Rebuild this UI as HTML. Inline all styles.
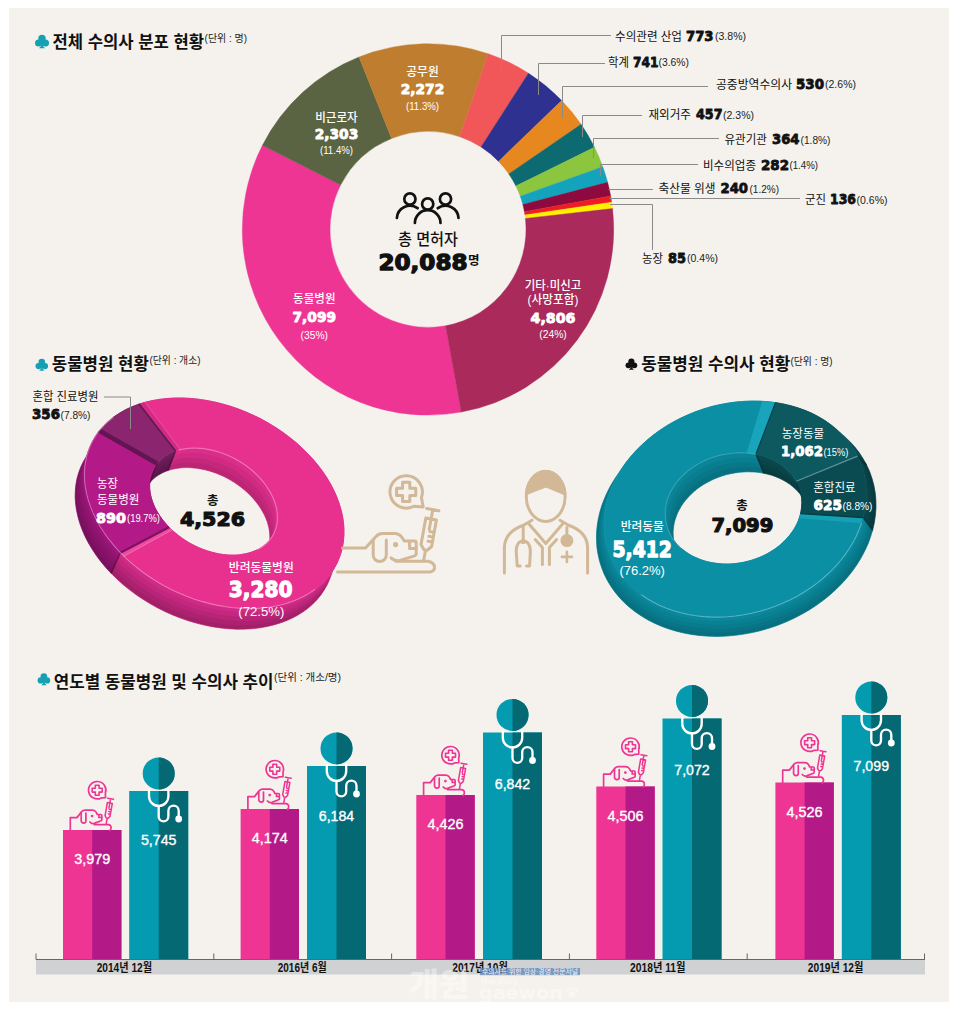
<!DOCTYPE html>
<html lang="ko"><head><meta charset="utf-8"><title>수의사 분포 현황</title>
<style>
html,body{margin:0;padding:0;background:#fff;}
body{width:960px;height:1018px;overflow:hidden;}
svg{display:block;}
.k{font-family:"Liberation Sans","Noto Sans CJK KR",sans-serif;}
.n{font-family:"DejaVu Sans","Liberation Sans",sans-serif;font-weight:700;}
.l{font-family:"Liberation Sans","Noto Sans CJK KR",sans-serif;font-weight:400;}
</style></head><body>
<svg width="960" height="1018" viewBox="0 0 960 1018">
<rect x="0" y="0" width="960" height="1018" fill="#fff"/>
<rect x="9" y="8" width="940" height="994" fill="#f5f2ed"/>
<g transform="translate(35 34.6) scale(1)" fill="#16a0b4"><circle cx="7" cy="3.9" r="3.7"/><circle cx="3.5" cy="8.3" r="3.5"/><circle cx="10.5" cy="8.3" r="3.5"/><path d="M6.2 7 L7.8 7 L8 11.5 L10 13.6 L4 13.6 L6 11.5 Z"/></g>
<text class="k" x="52.5" y="48" font-size="17" fill="#111" font-weight="700" textLength="151.5" lengthAdjust="spacingAndGlyphs">전체 수의사 분포 현황</text>
<text class="k" x="204.6" y="42" font-size="10.5" fill="#222" textLength="42.5" lengthAdjust="spacingAndGlyphs">(단위 : 명)</text>
<g transform="translate(35.5 358.6) scale(0.9)" fill="#16a0b4"><circle cx="7" cy="3.9" r="3.7"/><circle cx="3.5" cy="8.3" r="3.5"/><circle cx="10.5" cy="8.3" r="3.5"/><path d="M6.2 7 L7.8 7 L8 11.5 L10 13.6 L4 13.6 L6 11.5 Z"/></g>
<text class="k" x="51.8" y="369.8" font-size="17" fill="#111" font-weight="700" textLength="97" lengthAdjust="spacingAndGlyphs">동물병원 현황</text>
<text class="k" x="149.5" y="364.3" font-size="10.5" fill="#222" textLength="51" lengthAdjust="spacingAndGlyphs">(단위 : 개소)</text>
<g transform="translate(625.5 358.4) scale(0.84)" fill="#111"><circle cx="7" cy="3.9" r="3.7"/><circle cx="3.5" cy="8.3" r="3.5"/><circle cx="10.5" cy="8.3" r="3.5"/><path d="M6.2 7 L7.8 7 L8 11.5 L10 13.6 L4 13.6 L6 11.5 Z"/></g>
<text class="k" x="641.2" y="370.2" font-size="17" fill="#111" font-weight="700" textLength="149" lengthAdjust="spacingAndGlyphs">동물병원 수의사 현황</text>
<text class="k" x="790.5" y="365" font-size="10.5" fill="#222" textLength="42" lengthAdjust="spacingAndGlyphs">(단위 : 명)</text>
<g transform="translate(37.6 673) scale(0.9)" fill="#16a0b4"><circle cx="7" cy="3.9" r="3.7"/><circle cx="3.5" cy="8.3" r="3.5"/><circle cx="10.5" cy="8.3" r="3.5"/><path d="M6.2 7 L7.8 7 L8 11.5 L10 13.6 L4 13.6 L6 11.5 Z"/></g>
<text class="k" x="53.7" y="688.3" font-size="17" fill="#111" font-weight="700" textLength="219.8" lengthAdjust="spacingAndGlyphs">연도별 동물병원 및 수의사 추이</text>
<text class="k" x="274" y="681" font-size="10.5" fill="#222" textLength="67" lengthAdjust="spacingAndGlyphs">(단위 : 개소/명)</text>
<path d="M461.2 412.11 A185.7 185.7 0 0 1 262.43 145.32 L340.62 185.03 A98 98 0 0 0 445.52 325.82 Z" fill="#ee3593" stroke="#ee3593" stroke-width="0.4"/>
<path d="M262.43 145.32 A185.7 185.7 0 0 1 359.02 56.99 L391.6 138.41 A98 98 0 0 0 340.62 185.03 Z" fill="#5b6442" stroke="#5b6442" stroke-width="0.4"/>
<path d="M359.02 56.99 A185.7 185.7 0 0 1 488.19 53.72 L459.76 136.69 A98 98 0 0 0 391.6 138.41 Z" fill="#bf7d30" stroke="#bf7d30" stroke-width="0.4"/>
<path d="M488.19 53.72 A185.7 185.7 0 0 1 528.5 73.24 L481.04 146.99 A98 98 0 0 0 459.76 136.69 Z" fill="#f15659" stroke="#f15659" stroke-width="0.4"/>
<path d="M528.5 73.24 A185.7 185.7 0 0 1 561.68 100.5 L498.55 161.38 A98 98 0 0 0 481.04 146.99 Z" fill="#2e3190" stroke="#2e3190" stroke-width="0.4"/>
<path d="M561.68 100.5 A185.7 185.7 0 0 1 581.12 124.33 L508.81 173.95 A98 98 0 0 0 498.55 161.38 Z" fill="#e6871f" stroke="#e6871f" stroke-width="0.4"/>
<path d="M581.12 124.33 A185.7 185.7 0 0 1 594.52 147.22 L515.88 186.03 A98 98 0 0 0 508.81 173.95 Z" fill="#0c6a70" stroke="#0c6a70" stroke-width="0.4"/>
<path d="M594.52 147.22 A185.7 185.7 0 0 1 602.78 166.67 L520.24 196.29 A98 98 0 0 0 515.88 186.03 Z" fill="#8cc63e" stroke="#8cc63e" stroke-width="0.4"/>
<path d="M602.78 166.67 A185.7 185.7 0 0 1 607.63 182.31 L522.8 204.55 A98 98 0 0 0 520.24 196.29 Z" fill="#13a3bd" stroke="#13a3bd" stroke-width="0.4"/>
<path d="M607.63 182.31 A185.7 185.7 0 0 1 610.66 195.91 L524.39 211.73 A98 98 0 0 0 522.8 204.55 Z" fill="#8c0a3d" stroke="#8c0a3d" stroke-width="0.4"/>
<path d="M610.66 195.91 A185.7 185.7 0 0 1 611.69 202.15 L524.94 215.02 A98 98 0 0 0 524.39 211.73 Z" fill="#ee1d23" stroke="#ee1d23" stroke-width="0.4"/>
<path d="M611.69 202.15 A185.7 185.7 0 0 1 612.53 208.57 L525.38 218.41 A98 98 0 0 0 524.94 215.02 Z" fill="#fff100" stroke="#fff100" stroke-width="0.4"/>
<path d="M612.53 208.57 A185.7 185.7 0 0 1 461.24 412.1 L445.54 325.82 A98 98 0 0 0 525.38 218.41 Z" fill="#a92a5b" stroke="#a92a5b" stroke-width="0.4"/>
<g transform="translate(368 170)" fill="none" stroke="#111" stroke-width="2.7" stroke-linecap="round">
<circle cx="41.9" cy="29" r="5.6"/><circle cx="59.7" cy="34" r="5.6"/><circle cx="77.5" cy="29" r="5.6"/>
<path d="M28.9 48 A13 13 0 0 1 49.6 38.2"/>
<path d="M46.9 53 A12.8 12.8 0 0 1 72.5 53"/>
<path d="M90.5 48 A13 13 0 0 0 69.8 38.2"/>
</g>
<text class="k" x="428" y="245.2" font-size="16" fill="#111" text-anchor="middle" font-weight="500" textLength="60" lengthAdjust="spacingAndGlyphs">총 면허자</text>
<text class="n" x="378.5" y="269.6" font-size="21.26" fill="#111" textLength="89" lengthAdjust="spacingAndGlyphs" stroke="#111" stroke-width="1.28" stroke-linejoin="round">20,088</text>
<text class="k" x="468" y="265.3" font-size="12.5" fill="#111" font-weight="700">명</text>
<text class="k" x="422.5" y="76.2" font-size="12" fill="#fff" text-anchor="middle" font-weight="500" textLength="32.5" lengthAdjust="spacingAndGlyphs">공무원</text>
<text class="n" x="422.5" y="94" font-size="14.65" fill="#fff" text-anchor="middle" textLength="43.5" lengthAdjust="spacingAndGlyphs" stroke="#fff" stroke-width="0.88" stroke-linejoin="round">2,272</text>
<text class="l" x="422.5" y="110.2" font-size="11.3" fill="#fff" text-anchor="middle" textLength="33" lengthAdjust="spacingAndGlyphs">(11.3%)</text>
<text class="k" x="336.5" y="121.7" font-size="12" fill="#fff" text-anchor="middle" font-weight="500" textLength="42.5" lengthAdjust="spacingAndGlyphs">비근로자</text>
<text class="n" x="336.5" y="138.5" font-size="14.65" fill="#fff" text-anchor="middle" textLength="43.5" lengthAdjust="spacingAndGlyphs" stroke="#fff" stroke-width="0.88" stroke-linejoin="round">2,303</text>
<text class="l" x="336.5" y="153.7" font-size="11.3" fill="#fff" text-anchor="middle" textLength="33" lengthAdjust="spacingAndGlyphs">(11.4%)</text>
<text class="k" x="314.3" y="303.2" font-size="12" fill="#fff" text-anchor="middle" font-weight="500" textLength="42.5" lengthAdjust="spacingAndGlyphs">동물병원</text>
<text class="n" x="314.3" y="321.8" font-size="14.65" fill="#fff" text-anchor="middle" textLength="43.5" lengthAdjust="spacingAndGlyphs" stroke="#fff" stroke-width="0.88" stroke-linejoin="round">7,099</text>
<text class="l" x="314.3" y="338.8" font-size="11.3" fill="#fff" text-anchor="middle" textLength="27.5" lengthAdjust="spacingAndGlyphs">(35%)</text>
<text class="k" x="553" y="290.2" font-size="12" fill="#fff" text-anchor="middle" font-weight="500" textLength="56.5" lengthAdjust="spacingAndGlyphs">기타·미신고</text>
<text class="k" x="553" y="304" font-size="12" fill="#fff" text-anchor="middle" font-weight="500" textLength="51" lengthAdjust="spacingAndGlyphs">(사망포함)</text>
<text class="n" x="553" y="323" font-size="14.65" fill="#fff" text-anchor="middle" textLength="45" lengthAdjust="spacingAndGlyphs" stroke="#fff" stroke-width="0.88" stroke-linejoin="round">4,806</text>
<text class="l" x="553" y="338.3" font-size="11.3" fill="#fff" text-anchor="middle" textLength="27.5" lengthAdjust="spacingAndGlyphs">(24%)</text>
<path d="M501.5 75 V35.5 H611" fill="none" stroke="#8a8a8a" stroke-width="1"/>
<path d="M538.5 95 V63.5 H605" fill="none" stroke="#8a8a8a" stroke-width="1"/>
<path d="M562.5 118 V86.5 H708" fill="none" stroke="#8a8a8a" stroke-width="1"/>
<path d="M582.5 137 V115.5 H642" fill="none" stroke="#8a8a8a" stroke-width="1"/>
<path d="M593.5 158 V138.5 H719" fill="none" stroke="#8a8a8a" stroke-width="1"/>
<path d="M600.5 176 V164.5 H698" fill="none" stroke="#8a8a8a" stroke-width="1"/>
<path d="M608.5 189.5 H653" fill="none" stroke="#8a8a8a" stroke-width="1"/>
<path d="M609.5 198.5 H800" fill="none" stroke="#8a8a8a" stroke-width="1"/>
<path d="M610 204.5 H652.5 V250" fill="none" stroke="#8a8a8a" stroke-width="1"/>
<text class="k" x="615" y="40.5" font-size="12" fill="#111" textLength="67" lengthAdjust="spacingAndGlyphs">수의관련 산업</text>
<text class="n" x="686" y="40.5" font-size="14.17" fill="#111" textLength="27.5" lengthAdjust="spacingAndGlyphs" stroke="#111" stroke-width="0.85" stroke-linejoin="round">773</text>
<text class="l" x="715" y="40" font-size="10.5" fill="#222" textLength="31" lengthAdjust="spacingAndGlyphs">(3.8%)</text>
<text class="k" x="608" y="66.8" font-size="12" fill="#111" textLength="21" lengthAdjust="spacingAndGlyphs">학계</text>
<text class="n" x="633" y="66.8" font-size="14.17" fill="#111" textLength="25.5" lengthAdjust="spacingAndGlyphs" stroke="#111" stroke-width="0.85" stroke-linejoin="round">741</text>
<text class="l" x="658.5" y="66.3" font-size="10.5" fill="#222" textLength="30.5" lengthAdjust="spacingAndGlyphs">(3.6%)</text>
<text class="k" x="716" y="88.9" font-size="12" fill="#111" textLength="76" lengthAdjust="spacingAndGlyphs">공중방역수의사</text>
<text class="n" x="796" y="88.9" font-size="14.17" fill="#111" textLength="28" lengthAdjust="spacingAndGlyphs" stroke="#111" stroke-width="0.85" stroke-linejoin="round">530</text>
<text class="l" x="825" y="88.4" font-size="10.5" fill="#222" textLength="31" lengthAdjust="spacingAndGlyphs">(2.6%)</text>
<text class="k" x="648.5" y="119.2" font-size="12" fill="#111" textLength="42.5" lengthAdjust="spacingAndGlyphs">재외거주</text>
<text class="n" x="696" y="119.2" font-size="14.17" fill="#111" textLength="26.5" lengthAdjust="spacingAndGlyphs" stroke="#111" stroke-width="0.85" stroke-linejoin="round">457</text>
<text class="l" x="723" y="118.7" font-size="10.5" fill="#222" textLength="31" lengthAdjust="spacingAndGlyphs">(2.3%)</text>
<text class="k" x="724.5" y="144" font-size="12" fill="#111" textLength="42.5" lengthAdjust="spacingAndGlyphs">유관기관</text>
<text class="n" x="772" y="144" font-size="14.17" fill="#111" textLength="27.5" lengthAdjust="spacingAndGlyphs" stroke="#111" stroke-width="0.85" stroke-linejoin="round">364</text>
<text class="l" x="800.5" y="143.5" font-size="10.5" fill="#222" textLength="30" lengthAdjust="spacingAndGlyphs">(1.8%)</text>
<text class="k" x="703" y="169.5" font-size="12" fill="#111" textLength="53" lengthAdjust="spacingAndGlyphs">비수의업종</text>
<text class="n" x="761" y="169.5" font-size="14.17" fill="#111" textLength="28" lengthAdjust="spacingAndGlyphs" stroke="#111" stroke-width="0.85" stroke-linejoin="round">282</text>
<text class="l" x="789.5" y="169" font-size="10.5" fill="#222" textLength="28.5" lengthAdjust="spacingAndGlyphs">(1.4%)</text>
<text class="k" x="658.5" y="193" font-size="12" fill="#111" textLength="57" lengthAdjust="spacingAndGlyphs">축산물 위생</text>
<text class="n" x="720.5" y="193" font-size="14.17" fill="#111" textLength="27.5" lengthAdjust="spacingAndGlyphs" stroke="#111" stroke-width="0.85" stroke-linejoin="round">240</text>
<text class="l" x="749.5" y="192.5" font-size="10.5" fill="#222" textLength="29.5" lengthAdjust="spacingAndGlyphs">(1.2%)</text>
<text class="k" x="805" y="204" font-size="12" fill="#111" textLength="21" lengthAdjust="spacingAndGlyphs">군진</text>
<text class="n" x="830" y="204" font-size="14.17" fill="#111" textLength="26" lengthAdjust="spacingAndGlyphs" stroke="#111" stroke-width="0.85" stroke-linejoin="round">136</text>
<text class="l" x="856.5" y="203.5" font-size="10.5" fill="#222" textLength="31" lengthAdjust="spacingAndGlyphs">(0.6%)</text>
<text class="k" x="642" y="262.5" font-size="12" fill="#111" textLength="21" lengthAdjust="spacingAndGlyphs">농장</text>
<text class="n" x="668" y="262.5" font-size="14.17" fill="#111" textLength="18" lengthAdjust="spacingAndGlyphs" stroke="#111" stroke-width="0.85" stroke-linejoin="round">85</text>
<text class="l" x="687" y="262" font-size="10.5" fill="#222" textLength="31" lengthAdjust="spacingAndGlyphs">(0.4%)</text>
<path d="M139.1 404.1 L145.8 402.1 L152.7 400.5 L159.9 399.3 L167.3 398.5 L174.8 398.0 L182.5 398.0 L190.3 398.4 L198.2 399.2 L206.2 400.4 L214.2 401.9 L222.2 403.9 L230.2 406.2 L238.1 408.9 L245.9 412.0 L253.6 415.4 L261.2 419.1 L268.5 423.2 L275.7 427.6 L282.6 432.2 L289.3 437.2 L295.7 442.3 L301.8 447.8 L307.5 453.4 L312.9 459.2 L317.9 465.2 L322.5 471.3 L326.7 477.5 L330.5 483.9 L333.8 490.3 L336.7 496.8 L339.1 503.3 L341.0 509.8 L342.5 516.2 L343.5 522.7 L343.9 529.0 L343.9 535.2 L343.4 541.4 L342.4 547.4 L340.9 553.2 L338.9 558.8 L336.5 564.2 L333.5 569.4 L330.2 574.3 L326.4 579.0 L322.1 583.4 L317.5 587.4 L312.4 591.2 L307.0 594.6 L301.3 597.6 L295.1 600.3 L288.7 602.7 L282.0 604.6 L275.1 606.2 L267.9 607.4 L260.5 608.2 L253.0 608.6 L245.3 608.6 L237.4 608.1 L229.5 607.3 L221.5 606.1 L213.5 604.5 L205.5 602.5 L197.6 600.2 L189.7 597.4 L181.8 594.3 L174.2 590.9 L166.6 587.1 L159.3 583.0 L152.1 578.6 L145.2 574.0 L138.6 569.0 L132.2 563.8 L126.2 558.4 L120.4 552.7 L111.1 573.3 L116.9 579.0 L122.9 584.4 L129.3 589.6 L135.9 594.6 L142.8 599.2 L150.0 603.6 L157.3 607.7 L164.9 611.5 L172.5 614.9 L180.4 618.0 L188.3 620.8 L196.2 623.1 L204.2 625.1 L212.2 626.7 L220.2 627.9 L228.1 628.7 L236.0 629.2 L243.7 629.2 L251.2 628.8 L258.6 628.0 L265.8 626.8 L272.7 625.2 L279.4 623.3 L285.8 620.9 L292.0 618.2 L297.7 615.2 L303.1 611.8 L308.2 608.0 L312.8 604.0 L317.1 599.6 L320.9 594.9 L324.2 590.0 L327.2 584.8 L329.6 579.4 L331.6 573.8 L333.1 568.0 L334.1 562.0 L334.6 555.8 L334.6 549.6 L334.2 543.3 L333.2 536.8 L331.7 530.4 L329.8 523.9 L327.4 517.4 L324.5 510.9 L321.2 504.5 L317.4 498.1 L313.2 491.9 L308.6 485.8 L303.6 479.8 L298.2 474.0 L292.5 468.4 L286.4 462.9 L280.0 457.8 L273.3 452.8 L266.4 448.2 L259.2 443.8 L251.9 439.7 L244.3 436.0 L236.6 432.6 L228.8 429.5 L220.9 426.8 L212.9 424.5 L204.9 422.5 L196.9 421.0 L188.9 419.8 L181.0 419.0 L173.2 418.6 L165.5 418.6 L158.0 419.1 L150.6 419.9 L143.4 421.1 L136.5 422.7 L129.8 424.7 Z" fill="#cf2a86" stroke="#cf2a86" stroke-width="0.7"/>
<path d="M120.4 552.7 L115.0 546.9 L110.0 540.8 L105.4 534.6 L101.2 528.2 L97.4 521.8 L94.1 515.3 L91.3 508.8 L88.9 502.2 L87.1 495.6 L85.7 489.1 L84.8 482.6 L84.4 476.2 L84.6 469.9 L85.2 463.8 L86.3 457.8 L88.0 451.9 L90.1 446.3 L92.7 440.9 L95.8 435.7 L99.3 430.8 L90.0 451.4 L86.5 456.3 L83.4 461.5 L80.8 466.9 L78.7 472.5 L77.0 478.4 L75.9 484.4 L75.3 490.5 L75.1 496.8 L75.5 503.2 L76.4 509.7 L77.8 516.2 L79.6 522.8 L82.0 529.4 L84.8 535.9 L88.1 542.4 L91.9 548.8 L96.1 555.2 L100.7 561.4 L105.7 567.5 L111.1 573.3 Z" fill="#9a1678" stroke="#9a1678" stroke-width="0.7"/>
<path d="M99.3 430.8 L103.7 425.9 L108.5 421.2 L113.7 417.0 L119.5 413.2 L125.6 409.7 L132.2 406.7 L139.1 404.1 L129.8 424.7 L122.9 427.3 L116.3 430.3 L110.2 433.8 L104.4 437.6 L99.2 441.8 L94.4 446.5 L90.0 451.4 Z" fill="#771d60" stroke="#771d60" stroke-width="0.7"/>
<path d="M335.0 567.5 L332.2 572.7 L328.9 577.7 L325.1 582.4 L321.0 586.8 L316.4 590.9 L311.4 594.7 L306.1 598.2 L300.4 601.3 L294.3 604.0 L288.0 606.4 L281.3 608.5 L274.5 610.1 L267.3 611.3 L260.0 612.2 L252.5 612.6 L244.8 612.7 L237.0 612.4 L229.1 611.6 L221.1 610.5 L213.2 609.0 L205.2 607.0 L197.2 604.8 L189.3 602.1 L181.5 599.1 L173.8 595.7 L166.2 592.0 L158.8 588.0 L151.7 583.7 L144.7 579.0 L138.0 574.2 L131.6 569.0 L125.5 563.6 L119.7 558.0 L114.3 552.3 L109.3 546.3 L104.6 540.2 L100.4 534.0 L96.5 527.7 L93.1 521.3 L90.2 514.8 L87.7 508.3 L85.7 501.9 L84.2 495.4 L83.2 489.0 L82.6 482.6 L82.6 476.4 L83.0 470.2 L84.0 464.2 L85.4 458.4 L87.3 452.8 L89.7 447.3 L92.5 442.1 L95.8 437.2 L99.5 432.5 L103.7 428.0 L108.3 423.9 L113.3 420.1 L118.6 416.7 L124.3 413.6 L130.3 410.8 L136.7 408.4 L143.3 406.4 L150.2 404.7 L157.4 403.5 L164.7 402.6 L172.2 402.2 L179.9 402.1 L187.7 402.5 L195.6 403.2 L203.5 404.4 L211.5 405.9 L219.5 407.8 L227.5 410.1 L235.4 412.7 L243.2 415.8 L250.9 419.1 L258.5 422.8 L265.8 426.9 L273.0 431.2 L280.0 435.8 L286.7 440.7 L293.1 445.8 L299.2 451.2 L304.9 456.8 L310.4 462.6 L315.4 468.5 L320.1 474.6 L324.3 480.8 L328.2 487.2 L331.5 493.6 L334.5 500.0 L336.9 506.5 L338.9 513.0 L340.5 519.5 L341.5 525.9 L342.0 532.2 L342.1 538.5 L341.6 544.6 L340.7 550.6 L339.3 556.4 L337.4 562.1 L335.0 567.5 L327.6 584.0 L329.9 578.6 L331.8 572.9 L333.3 567.1 L334.2 561.1 L334.6 555.0 L334.6 548.7 L334.0 542.3 L333.0 535.9 L331.5 529.5 L329.5 523.0 L327.0 516.5 L324.1 510.1 L320.7 503.6 L316.9 497.3 L312.6 491.1 L308.0 485.0 L302.9 479.1 L297.5 473.3 L291.7 467.7 L285.6 462.3 L279.2 457.2 L272.5 452.3 L265.6 447.7 L258.4 443.3 L251.0 439.3 L243.5 435.6 L235.8 432.2 L227.9 429.2 L220.0 426.6 L212.1 424.3 L204.1 422.4 L196.1 420.8 L188.1 419.7 L180.3 419.0 L172.5 418.6 L164.8 418.7 L157.3 419.1 L149.9 420.0 L142.8 421.2 L135.9 422.9 L129.3 424.9 L122.9 427.3 L116.9 430.0 L111.2 433.2 L105.8 436.6 L100.8 440.4 L96.3 444.5 L92.1 448.9 L88.4 453.6 L85.1 458.6 L82.2 463.8 L79.9 469.2 L78.0 474.9 L76.5 480.7 L75.6 486.7 L75.2 492.8 L75.2 499.1 L75.8 505.5 L76.8 511.9 L78.3 518.3 L80.3 524.8 L82.8 531.3 L85.7 537.7 L89.1 544.2 L92.9 550.5 L97.2 556.7 L101.8 562.8 L106.9 568.7 L112.3 574.5 L118.1 580.1 L124.2 585.5 L130.6 590.6 L137.3 595.5 L144.2 600.1 L151.4 604.5 L158.8 608.5 L166.3 612.2 L174.0 615.6 L181.9 618.6 L189.8 621.2 L197.7 623.5 L205.7 625.4 L213.7 627.0 L221.7 628.1 L229.5 628.8 L237.3 629.2 L245.0 629.1 L252.5 628.7 L259.9 627.8 L267.0 626.6 L273.9 624.9 L280.5 622.9 L286.9 620.5 L292.9 617.8 L298.6 614.6 L304.0 611.2 L309.0 607.4 L313.5 603.3 L317.7 598.9 L321.4 594.2 L324.7 589.2 L327.6 584.0 Z" fill="rgba(0,0,0,0.055)" />
<path d="M333.2 571.6 L330.3 576.8 L327.0 581.8 L323.3 586.5 L319.1 590.9 L314.5 595.0 L309.6 598.8 L304.2 602.3 L298.5 605.4 L292.5 608.2 L286.1 610.6 L279.5 612.6 L272.6 614.2 L265.5 615.5 L258.1 616.3 L250.6 616.8 L242.9 616.8 L235.1 616.5 L227.2 615.7 L219.3 614.6 L211.3 613.1 L203.3 611.2 L195.3 608.9 L187.4 606.2 L179.6 603.2 L171.9 599.8 L164.4 596.1 L157.0 592.1 L149.8 587.8 L142.9 583.2 L136.2 578.3 L129.8 573.1 L123.6 567.8 L117.9 562.2 L112.5 556.4 L107.4 550.4 L102.7 544.3 L98.5 538.1 L94.7 531.8 L91.3 525.4 L88.3 518.9 L85.9 512.5 L83.9 506.0 L82.4 499.5 L81.3 493.1 L80.8 486.7 L80.7 480.5 L81.2 474.4 L82.1 468.4 L83.5 462.5 L85.4 456.9 L87.8 451.4 L90.7 446.2 L93.9 441.3 L97.7 436.6 L101.8 432.2 L106.4 428.1 L111.4 424.3 L116.7 420.8 L122.4 417.7 L128.5 414.9 L134.8 412.5 L141.5 410.5 L148.4 408.9 L155.5 407.6 L162.8 406.8 L170.4 406.3 L178.0 406.3 L185.8 406.6 L193.7 407.3 L201.7 408.5 L209.7 410.0 L217.7 411.9 L225.6 414.2 L233.5 416.9 L241.3 419.9 L249.0 423.3 L256.6 427.0 L264.0 431.0 L271.2 435.3 L278.1 439.9 L284.8 444.8 L291.2 449.9 L297.3 455.3 L303.1 460.9 L308.5 466.7 L313.6 472.6 L318.2 478.7 L322.5 485.0 L326.3 491.3 L329.7 497.7 L332.6 504.1 L335.1 510.6 L337.1 517.1 L338.6 523.6 L339.6 530.0 L340.2 536.3 L340.2 542.6 L339.8 548.7 L338.8 554.7 L337.4 560.6 L335.5 566.2 L333.2 571.6 L327.6 584.0 L329.9 578.6 L331.8 572.9 L333.3 567.1 L334.2 561.1 L334.6 555.0 L334.6 548.7 L334.0 542.3 L333.0 535.9 L331.5 529.5 L329.5 523.0 L327.0 516.5 L324.1 510.1 L320.7 503.6 L316.9 497.3 L312.6 491.1 L308.0 485.0 L302.9 479.1 L297.5 473.3 L291.7 467.7 L285.6 462.3 L279.2 457.2 L272.5 452.3 L265.6 447.7 L258.4 443.3 L251.0 439.3 L243.5 435.6 L235.8 432.2 L227.9 429.2 L220.0 426.6 L212.1 424.3 L204.1 422.4 L196.1 420.8 L188.1 419.7 L180.3 419.0 L172.5 418.6 L164.8 418.7 L157.3 419.1 L149.9 420.0 L142.8 421.2 L135.9 422.9 L129.3 424.9 L122.9 427.3 L116.9 430.0 L111.2 433.2 L105.8 436.6 L100.8 440.4 L96.3 444.5 L92.1 448.9 L88.4 453.6 L85.1 458.6 L82.2 463.8 L79.9 469.2 L78.0 474.9 L76.5 480.7 L75.6 486.7 L75.2 492.8 L75.2 499.1 L75.8 505.5 L76.8 511.9 L78.3 518.3 L80.3 524.8 L82.8 531.3 L85.7 537.7 L89.1 544.2 L92.9 550.5 L97.2 556.7 L101.8 562.8 L106.9 568.7 L112.3 574.5 L118.1 580.1 L124.2 585.5 L130.6 590.6 L137.3 595.5 L144.2 600.1 L151.4 604.5 L158.8 608.5 L166.3 612.2 L174.0 615.6 L181.9 618.6 L189.8 621.2 L197.7 623.5 L205.7 625.4 L213.7 627.0 L221.7 628.1 L229.5 628.8 L237.3 629.2 L245.0 629.1 L252.5 628.7 L259.9 627.8 L267.0 626.6 L273.9 624.9 L280.5 622.9 L286.9 620.5 L292.9 617.8 L298.6 614.6 L304.0 611.2 L309.0 607.4 L313.5 603.3 L317.7 598.9 L321.4 594.2 L324.7 589.2 L327.6 584.0 Z" fill="rgba(0,0,0,0.055)" />
<path d="M331.3 575.8 L328.4 581.0 L325.2 585.9 L321.4 590.6 L317.3 595.0 L312.7 599.1 L307.7 602.9 L302.4 606.4 L296.7 609.5 L290.6 612.3 L284.3 614.7 L277.6 616.7 L270.7 618.3 L263.6 619.6 L256.3 620.4 L248.7 620.9 L241.1 620.9 L233.3 620.6 L225.4 619.9 L217.4 618.7 L209.4 617.2 L201.4 615.3 L193.5 613.0 L185.6 610.3 L177.8 607.3 L170.1 603.9 L162.5 600.2 L155.1 596.2 L147.9 591.9 L141.0 587.3 L134.3 582.4 L127.9 577.3 L121.8 571.9 L116.0 566.3 L110.6 560.5 L105.5 554.6 L100.9 548.5 L96.6 542.2 L92.8 535.9 L89.4 529.5 L86.5 523.1 L84.0 516.6 L82.0 510.1 L80.5 503.6 L79.5 497.2 L78.9 490.9 L78.9 484.6 L79.3 478.5 L80.3 472.5 L81.7 466.6 L83.6 461.0 L85.9 455.6 L88.8 450.4 L92.1 445.4 L95.8 440.7 L100.0 436.3 L104.6 432.2 L109.5 428.4 L114.9 424.9 L120.6 421.8 L126.6 419.0 L133.0 416.6 L139.6 414.6 L146.5 413.0 L153.6 411.7 L161.0 410.9 L168.5 410.4 L176.2 410.4 L184.0 410.7 L191.9 411.5 L199.8 412.6 L207.8 414.1 L215.8 416.0 L223.8 418.3 L231.7 421.0 L239.5 424.0 L247.2 427.4 L254.7 431.1 L262.1 435.1 L269.3 439.4 L276.2 444.0 L282.9 448.9 L289.3 454.1 L295.5 459.4 L301.2 465.0 L306.6 470.8 L311.7 476.8 L316.4 482.9 L320.6 489.1 L324.4 495.4 L327.8 501.8 L330.8 508.3 L333.2 514.7 L335.2 521.2 L336.7 527.7 L337.8 534.1 L338.3 540.5 L338.4 546.7 L337.9 552.8 L337.0 558.8 L335.6 564.7 L333.7 570.3 L331.3 575.8 L327.6 584.0 L329.9 578.6 L331.8 572.9 L333.3 567.1 L334.2 561.1 L334.6 555.0 L334.6 548.7 L334.0 542.3 L333.0 535.9 L331.5 529.5 L329.5 523.0 L327.0 516.5 L324.1 510.1 L320.7 503.6 L316.9 497.3 L312.6 491.1 L308.0 485.0 L302.9 479.1 L297.5 473.3 L291.7 467.7 L285.6 462.3 L279.2 457.2 L272.5 452.3 L265.6 447.7 L258.4 443.3 L251.0 439.3 L243.5 435.6 L235.8 432.2 L227.9 429.2 L220.0 426.6 L212.1 424.3 L204.1 422.4 L196.1 420.8 L188.1 419.7 L180.3 419.0 L172.5 418.6 L164.8 418.7 L157.3 419.1 L149.9 420.0 L142.8 421.2 L135.9 422.9 L129.3 424.9 L122.9 427.3 L116.9 430.0 L111.2 433.2 L105.8 436.6 L100.8 440.4 L96.3 444.5 L92.1 448.9 L88.4 453.6 L85.1 458.6 L82.2 463.8 L79.9 469.2 L78.0 474.9 L76.5 480.7 L75.6 486.7 L75.2 492.8 L75.2 499.1 L75.8 505.5 L76.8 511.9 L78.3 518.3 L80.3 524.8 L82.8 531.3 L85.7 537.7 L89.1 544.2 L92.9 550.5 L97.2 556.7 L101.8 562.8 L106.9 568.7 L112.3 574.5 L118.1 580.1 L124.2 585.5 L130.6 590.6 L137.3 595.5 L144.2 600.1 L151.4 604.5 L158.8 608.5 L166.3 612.2 L174.0 615.6 L181.9 618.6 L189.8 621.2 L197.7 623.5 L205.7 625.4 L213.7 627.0 L221.7 628.1 L229.5 628.8 L237.3 629.2 L245.0 629.1 L252.5 628.7 L259.9 627.8 L267.0 626.6 L273.9 624.9 L280.5 622.9 L286.9 620.5 L292.9 617.8 L298.6 614.6 L304.0 611.2 L309.0 607.4 L313.5 603.3 L317.7 598.9 L321.4 594.2 L324.7 589.2 L327.6 584.0 Z" fill="rgba(0,0,0,0.055)" />
<path d="M329.4 579.9 L326.6 585.1 L323.3 590.0 L319.6 594.7 L315.4 599.2 L310.8 603.3 L305.8 607.1 L300.5 610.5 L294.8 613.6 L288.8 616.4 L282.4 618.8 L275.8 620.8 L268.9 622.5 L261.7 623.7 L254.4 624.6 L246.9 625.0 L239.2 625.1 L231.4 624.7 L223.5 624.0 L215.6 622.8 L207.6 621.3 L199.6 619.4 L191.6 617.1 L183.7 614.5 L175.9 611.4 L168.2 608.1 L160.6 604.4 L153.3 600.3 L146.1 596.0 L139.1 591.4 L132.4 586.5 L126.0 581.4 L119.9 576.0 L114.2 570.4 L108.7 564.6 L103.7 558.7 L99.0 552.6 L94.8 546.4 L90.9 540.0 L87.6 533.6 L84.6 527.2 L82.2 520.7 L80.2 514.2 L78.6 507.7 L77.6 501.3 L77.1 495.0 L77.0 488.7 L77.5 482.6 L78.4 476.6 L79.8 470.8 L81.7 465.1 L84.1 459.7 L86.9 454.5 L90.2 449.5 L94.0 444.8 L98.1 440.4 L102.7 436.3 L107.7 432.5 L113.0 429.0 L118.7 425.9 L124.8 423.2 L131.1 420.8 L137.8 418.7 L144.6 417.1 L151.8 415.9 L159.1 415.0 L166.6 414.6 L174.3 414.5 L182.1 414.8 L190.0 415.6 L198.0 416.7 L205.9 418.2 L213.9 420.2 L221.9 422.4 L229.8 425.1 L237.6 428.1 L245.3 431.5 L252.9 435.2 L260.3 439.2 L267.4 443.5 L274.4 448.2 L281.1 453.0 L287.5 458.2 L293.6 463.6 L299.4 469.2 L304.8 474.9 L309.8 480.9 L314.5 487.0 L318.7 493.2 L322.6 499.5 L326.0 505.9 L328.9 512.4 L331.4 518.9 L333.4 525.3 L334.9 531.8 L335.9 538.2 L336.5 544.6 L336.5 550.8 L336.1 557.0 L335.1 563.0 L333.7 568.8 L331.8 574.4 L329.4 579.9 L327.6 584.0 L329.9 578.6 L331.8 572.9 L333.3 567.1 L334.2 561.1 L334.6 555.0 L334.6 548.7 L334.0 542.3 L333.0 535.9 L331.5 529.5 L329.5 523.0 L327.0 516.5 L324.1 510.1 L320.7 503.6 L316.9 497.3 L312.6 491.1 L308.0 485.0 L302.9 479.1 L297.5 473.3 L291.7 467.7 L285.6 462.3 L279.2 457.2 L272.5 452.3 L265.6 447.7 L258.4 443.3 L251.0 439.3 L243.5 435.6 L235.8 432.2 L227.9 429.2 L220.0 426.6 L212.1 424.3 L204.1 422.4 L196.1 420.8 L188.1 419.7 L180.3 419.0 L172.5 418.6 L164.8 418.7 L157.3 419.1 L149.9 420.0 L142.8 421.2 L135.9 422.9 L129.3 424.9 L122.9 427.3 L116.9 430.0 L111.2 433.2 L105.8 436.6 L100.8 440.4 L96.3 444.5 L92.1 448.9 L88.4 453.6 L85.1 458.6 L82.2 463.8 L79.9 469.2 L78.0 474.9 L76.5 480.7 L75.6 486.7 L75.2 492.8 L75.2 499.1 L75.8 505.5 L76.8 511.9 L78.3 518.3 L80.3 524.8 L82.8 531.3 L85.7 537.7 L89.1 544.2 L92.9 550.5 L97.2 556.7 L101.8 562.8 L106.9 568.7 L112.3 574.5 L118.1 580.1 L124.2 585.5 L130.6 590.6 L137.3 595.5 L144.2 600.1 L151.4 604.5 L158.8 608.5 L166.3 612.2 L174.0 615.6 L181.9 618.6 L189.8 621.2 L197.7 623.5 L205.7 625.4 L213.7 627.0 L221.7 628.1 L229.5 628.8 L237.3 629.2 L245.0 629.1 L252.5 628.7 L259.9 627.8 L267.0 626.6 L273.9 624.9 L280.5 622.9 L286.9 620.5 L292.9 617.8 L298.6 614.6 L304.0 611.2 L309.0 607.4 L313.5 603.3 L317.7 598.9 L321.4 594.2 L324.7 589.2 L327.6 584.0 Z" fill="rgba(0,0,0,0.055)" />
<path d="M139.12 404.09 L129.82 424.69" stroke="rgba(0,0,0,0.3)" stroke-width="1.6" fill="none"/>
<path d="M99.35 430.81 L90.05 451.41" stroke="rgba(0,0,0,0.3)" stroke-width="1.6" fill="none"/>
<path d="M120.45 552.75 L111.15 573.35" stroke="rgba(0,0,0,0.3)" stroke-width="1.6" fill="none"/>
<path d="M175.6 451.0 L178.8 450.1 L182.2 449.3 L185.6 448.7 L189.2 448.3 L192.9 448.1 L196.7 448.1 L200.5 448.4 L204.3 448.8 L208.2 449.4 L212.2 450.2 L216.1 451.2 L220.0 452.4 L223.9 453.8 L227.8 455.4 L231.6 457.1 L235.3 459.0 L238.9 461.1 L242.5 463.3 L245.9 465.7 L249.3 468.2 L252.4 470.8 L255.5 473.6 L258.4 476.4 L261.1 479.4 L263.6 482.4 L266.0 485.5 L268.1 488.7 L270.0 491.9 L271.8 495.1 L273.3 498.4 L274.6 501.7 L275.6 505.0 L276.4 508.2 L277.0 511.5 L277.3 514.7 L277.4 517.8 L277.3 520.9 L276.9 524.0 L276.3 526.9 L275.4 529.8 L274.3 532.5 L273.0 535.1 L271.5 537.6 L269.7 540.0 L267.7 542.2 L265.5 544.3 L263.1 546.2 L260.6 547.9 L257.8 549.5 L254.9 550.8 L251.9 552.0 L248.6 553.0 L245.3 553.8 L241.8 554.4 L238.3 554.9 L234.6 555.1 L230.8 555.1 L227.0 554.9 L223.2 554.5 L219.3 553.9 L215.4 553.1 L211.4 552.1 L207.5 550.9 L203.6 549.6 L199.7 548.0 L195.9 546.3 L192.2 544.4 L188.5 542.4 L185.0 540.2 L181.5 537.8 L178.2 535.3 L175.0 532.7 L171.9 530.0 L169.0 527.2 L161.4 546.7 L164.3 549.5 L167.4 552.2 L170.6 554.8 L173.9 557.3 L177.4 559.7 L180.9 561.9 L184.6 563.9 L188.3 565.8 L192.1 567.5 L196.0 569.1 L199.9 570.4 L203.8 571.6 L207.8 572.6 L211.7 573.4 L215.6 574.0 L219.4 574.4 L223.2 574.6 L227.0 574.6 L230.7 574.4 L234.2 573.9 L237.7 573.3 L241.0 572.5 L244.3 571.5 L247.3 570.3 L250.2 569.0 L253.0 567.4 L255.5 565.7 L257.9 563.8 L260.1 561.7 L262.1 559.5 L263.9 557.1 L265.4 554.6 L266.7 552.0 L267.8 549.3 L268.7 546.4 L269.3 543.5 L269.7 540.4 L269.8 537.3 L269.7 534.2 L269.4 531.0 L268.8 527.7 L268.0 524.5 L267.0 521.2 L265.7 517.9 L264.2 514.6 L262.4 511.4 L260.5 508.2 L258.4 505.0 L256.0 501.9 L253.5 498.9 L250.8 495.9 L247.9 493.1 L244.8 490.3 L241.7 487.7 L238.3 485.2 L234.9 482.8 L231.3 480.6 L227.7 478.5 L224.0 476.6 L220.2 474.9 L216.3 473.3 L212.4 471.9 L208.5 470.7 L204.6 469.7 L200.6 468.9 L196.7 468.3 L192.9 467.9 L189.1 467.6 L185.3 467.6 L181.6 467.8 L178.0 468.2 L174.6 468.8 L171.2 469.6 L168.0 470.5 Z" fill="#dc2d8a" stroke="#dc2d8a" stroke-width="0.7"/>
<path d="M169.0 527.2 L166.3 524.2 L163.7 521.2 L161.3 518.1 L159.2 515.0 L157.2 511.7 L155.4 508.5 L153.9 505.2 L152.6 501.9 L151.5 498.6 L150.7 495.4 L150.1 492.1 L149.7 488.9 L149.6 485.7 L149.7 482.6 L150.0 479.6 L150.6 476.6 L151.5 473.8 L152.5 471.0 L153.8 468.4 L155.4 465.9 L157.1 463.5 L149.5 483.0 L147.8 485.4 L146.2 487.9 L144.9 490.5 L143.9 493.3 L143.0 496.1 L142.4 499.1 L142.1 502.1 L142.0 505.2 L142.1 508.4 L142.5 511.6 L143.1 514.9 L143.9 518.1 L145.0 521.4 L146.3 524.7 L147.8 528.0 L149.6 531.2 L151.6 534.5 L153.7 537.6 L156.1 540.7 L158.7 543.7 L161.4 546.7 Z" fill="#96157a" stroke="#96157a" stroke-width="0.7"/>
<path d="M157.1 463.5 L159.1 461.2 L161.4 459.0 L163.8 457.1 L166.5 455.3 L169.3 453.7 L172.4 452.2 L175.6 451.0 L168.0 470.5 L164.8 471.7 L161.7 473.2 L158.9 474.8 L156.2 476.6 L153.8 478.5 L151.5 480.7 L149.5 483.0 Z" fill="#6e1c5a" stroke="#6e1c5a" stroke-width="0.7"/>
<path d="M271.0 540.1 L269.5 542.6 L267.7 545.0 L265.7 547.2 L263.5 549.2 L261.1 551.1 L258.5 552.9 L255.8 554.4 L252.8 555.8 L249.8 557.0 L246.5 558.0 L243.2 558.8 L239.7 559.4 L236.1 559.8 L232.4 560.0 L228.6 559.9 L224.8 559.7 L220.9 559.3 L217.0 558.7 L213.1 557.9 L209.2 556.9 L205.2 555.7 L201.3 554.3 L197.5 552.7 L193.6 551.0 L189.9 549.1 L186.2 547.0 L182.7 544.8 L179.2 542.4 L175.9 539.9 L172.7 537.3 L169.6 534.5 L166.8 531.7 L164.0 528.7 L161.5 525.7 L159.1 522.6 L157.0 519.4 L155.0 516.2 L153.3 512.9 L151.8 509.6 L150.5 506.4 L149.5 503.1 L148.7 499.8 L148.1 496.5 L147.8 493.3 L147.7 490.1 L147.8 487.0 L148.2 484.0 L148.8 481.1 L149.7 478.2 L150.8 475.5 L152.2 472.8 L153.7 470.3 L155.5 468.0 L157.5 465.8 L159.7 463.7 L162.1 461.8 L164.7 460.1 L167.4 458.5 L170.4 457.2 L173.4 456.0 L176.7 455.0 L180.0 454.2 L183.5 453.6 L187.1 453.2 L190.8 453.0 L194.6 453.0 L198.4 453.2 L202.3 453.6 L206.2 454.2 L210.1 455.1 L214.0 456.1 L218.0 457.3 L221.9 458.6 L225.7 460.2 L229.6 461.9 L233.3 463.9 L237.0 465.9 L240.5 468.2 L244.0 470.5 L247.3 473.0 L250.5 475.7 L253.6 478.4 L256.4 481.3 L259.2 484.2 L261.7 487.3 L264.1 490.4 L266.2 493.5 L268.2 496.8 L269.9 500.0 L271.4 503.3 L272.7 506.6 L273.7 509.9 L274.5 513.2 L275.1 516.4 L275.4 519.6 L275.5 522.8 L275.4 525.9 L275.0 528.9 L274.4 531.9 L273.5 534.7 L272.4 537.5 L271.0 540.1 L265.3 554.7 L266.7 552.1 L267.8 549.4 L268.7 546.5 L269.3 543.6 L269.7 540.5 L269.8 537.4 L269.7 534.3 L269.4 531.0 L268.8 527.8 L268.0 524.5 L267.0 521.2 L265.7 517.9 L264.2 514.6 L262.5 511.4 L260.5 508.2 L258.4 505.0 L256.0 501.9 L253.5 498.8 L250.7 495.9 L247.9 493.0 L244.8 490.3 L241.6 487.7 L238.3 485.1 L234.8 482.8 L231.3 480.6 L227.6 478.5 L223.9 476.6 L220.0 474.8 L216.2 473.3 L212.3 471.9 L208.3 470.7 L204.4 469.7 L200.5 468.9 L196.6 468.3 L192.7 467.8 L188.9 467.6 L185.1 467.6 L181.4 467.8 L177.8 468.2 L174.3 468.8 L171.0 469.6 L167.7 470.6 L164.7 471.8 L161.7 473.2 L159.0 474.7 L156.4 476.4 L154.0 478.3 L151.8 480.4 L149.8 482.6 L148.0 485.0 L146.5 487.5 L145.1 490.1 L144.0 492.8 L143.1 495.7 L142.5 498.6 L142.1 501.7 L142.0 504.8 L142.1 507.9 L142.4 511.2 L143.0 514.4 L143.8 517.7 L144.8 521.0 L146.1 524.3 L147.6 527.6 L149.3 530.8 L151.3 534.0 L153.4 537.2 L155.8 540.3 L158.3 543.4 L161.1 546.3 L163.9 549.2 L167.0 551.9 L170.2 554.5 L173.5 557.1 L177.0 559.4 L180.5 561.6 L184.2 563.7 L187.9 565.6 L191.8 567.4 L195.6 568.9 L199.5 570.3 L203.5 571.5 L207.4 572.5 L211.3 573.3 L215.2 573.9 L219.1 574.4 L222.9 574.6 L226.7 574.6 L230.4 574.4 L234.0 574.0 L237.5 573.4 L240.8 572.6 L244.1 571.6 L247.1 570.4 L250.1 569.0 L252.8 567.5 L255.4 565.8 L257.8 563.9 L260.0 561.8 L262.0 559.6 L263.8 557.2 L265.3 554.7 Z" fill="rgba(0,0,0,0.05)" />
<path d="M269.1 545.0 L267.6 547.5 L265.8 549.8 L263.8 552.1 L261.6 554.1 L259.2 556.0 L256.6 557.7 L253.9 559.3 L250.9 560.7 L247.9 561.8 L244.6 562.8 L241.3 563.6 L237.8 564.2 L234.2 564.6 L230.5 564.8 L226.7 564.8 L222.9 564.6 L219.0 564.2 L215.1 563.6 L211.2 562.8 L207.3 561.8 L203.3 560.6 L199.4 559.2 L195.6 557.6 L191.7 555.9 L188.0 554.0 L184.3 551.9 L180.8 549.7 L177.3 547.3 L174.0 544.8 L170.8 542.2 L167.7 539.4 L164.9 536.6 L162.1 533.6 L159.6 530.6 L157.2 527.5 L155.1 524.3 L153.1 521.1 L151.4 517.8 L149.9 514.5 L148.6 511.2 L147.6 507.9 L146.8 504.7 L146.2 501.4 L145.9 498.2 L145.8 495.0 L145.9 491.9 L146.3 488.9 L146.9 485.9 L147.8 483.1 L148.9 480.3 L150.3 477.7 L151.8 475.2 L153.6 472.9 L155.6 470.6 L157.8 468.6 L160.2 466.7 L162.8 465.0 L165.5 463.4 L168.5 462.0 L171.5 460.9 L174.8 459.9 L178.1 459.1 L181.6 458.5 L185.2 458.1 L188.9 457.9 L192.7 457.9 L196.5 458.1 L200.4 458.5 L204.3 459.1 L208.2 459.9 L212.1 460.9 L216.1 462.1 L220.0 463.5 L223.8 465.1 L227.7 466.8 L231.4 468.7 L235.1 470.8 L238.6 473.0 L242.1 475.4 L245.4 477.9 L248.6 480.5 L251.7 483.3 L254.5 486.1 L257.3 489.1 L259.8 492.1 L262.2 495.2 L264.3 498.4 L266.3 501.6 L268.0 504.9 L269.5 508.2 L270.8 511.5 L271.8 514.8 L272.6 518.0 L273.2 521.3 L273.5 524.5 L273.6 527.7 L273.5 530.8 L273.1 533.8 L272.5 536.8 L271.6 539.6 L270.5 542.4 L269.1 545.0 L265.3 554.7 L266.7 552.1 L267.8 549.4 L268.7 546.5 L269.3 543.6 L269.7 540.5 L269.8 537.4 L269.7 534.3 L269.4 531.0 L268.8 527.8 L268.0 524.5 L267.0 521.2 L265.7 517.9 L264.2 514.6 L262.5 511.4 L260.5 508.2 L258.4 505.0 L256.0 501.9 L253.5 498.8 L250.7 495.9 L247.9 493.0 L244.8 490.3 L241.6 487.7 L238.3 485.1 L234.8 482.8 L231.3 480.6 L227.6 478.5 L223.9 476.6 L220.0 474.8 L216.2 473.3 L212.3 471.9 L208.3 470.7 L204.4 469.7 L200.5 468.9 L196.6 468.3 L192.7 467.8 L188.9 467.6 L185.1 467.6 L181.4 467.8 L177.8 468.2 L174.3 468.8 L171.0 469.6 L167.7 470.6 L164.7 471.8 L161.7 473.2 L159.0 474.7 L156.4 476.4 L154.0 478.3 L151.8 480.4 L149.8 482.6 L148.0 485.0 L146.5 487.5 L145.1 490.1 L144.0 492.8 L143.1 495.7 L142.5 498.6 L142.1 501.7 L142.0 504.8 L142.1 507.9 L142.4 511.2 L143.0 514.4 L143.8 517.7 L144.8 521.0 L146.1 524.3 L147.6 527.6 L149.3 530.8 L151.3 534.0 L153.4 537.2 L155.8 540.3 L158.3 543.4 L161.1 546.3 L163.9 549.2 L167.0 551.9 L170.2 554.5 L173.5 557.1 L177.0 559.4 L180.5 561.6 L184.2 563.7 L187.9 565.6 L191.8 567.4 L195.6 568.9 L199.5 570.3 L203.5 571.5 L207.4 572.5 L211.3 573.3 L215.2 573.9 L219.1 574.4 L222.9 574.6 L226.7 574.6 L230.4 574.4 L234.0 574.0 L237.5 573.4 L240.8 572.6 L244.1 571.6 L247.1 570.4 L250.1 569.0 L252.8 567.5 L255.4 565.8 L257.8 563.9 L260.0 561.8 L262.0 559.6 L263.8 557.2 L265.3 554.7 Z" fill="rgba(0,0,0,0.05)" />
<path d="M267.2 549.9 L265.7 552.4 L263.9 554.7 L261.9 556.9 L259.7 559.0 L257.3 560.9 L254.7 562.6 L252.0 564.2 L249.0 565.5 L246.0 566.7 L242.7 567.7 L239.4 568.5 L235.9 569.1 L232.3 569.5 L228.6 569.7 L224.8 569.7 L221.0 569.5 L217.1 569.1 L213.2 568.5 L209.3 567.6 L205.4 566.6 L201.4 565.4 L197.5 564.1 L193.7 562.5 L189.8 560.8 L186.1 558.8 L182.4 556.8 L178.9 554.5 L175.4 552.2 L172.1 549.7 L168.9 547.0 L165.8 544.3 L163.0 541.4 L160.2 538.5 L157.7 535.4 L155.3 532.3 L153.2 529.2 L151.2 525.9 L149.5 522.7 L148.0 519.4 L146.7 516.1 L145.7 512.8 L144.9 509.5 L144.3 506.3 L144.0 503.1 L143.9 499.9 L144.0 496.8 L144.4 493.8 L145.0 490.8 L145.9 488.0 L147.0 485.2 L148.4 482.6 L149.9 480.1 L151.7 477.7 L153.7 475.5 L155.9 473.5 L158.3 471.6 L160.9 469.8 L163.6 468.3 L166.6 466.9 L169.6 465.7 L172.9 464.7 L176.2 463.9 L179.7 463.3 L183.3 462.9 L187.0 462.7 L190.8 462.8 L194.6 463.0 L198.5 463.4 L202.4 464.0 L206.3 464.8 L210.2 465.8 L214.2 467.0 L218.1 468.4 L221.9 470.0 L225.8 471.7 L229.5 473.6 L233.2 475.7 L236.7 477.9 L240.2 480.3 L243.5 482.8 L246.7 485.4 L249.8 488.2 L252.6 491.0 L255.4 494.0 L257.9 497.0 L260.3 500.1 L262.4 503.3 L264.4 506.5 L266.1 509.8 L267.6 513.1 L268.9 516.3 L269.9 519.6 L270.7 522.9 L271.3 526.2 L271.6 529.4 L271.7 532.6 L271.6 535.7 L271.2 538.7 L270.6 541.6 L269.7 544.5 L268.6 547.2 L267.2 549.9 L265.3 554.7 L266.7 552.1 L267.8 549.4 L268.7 546.5 L269.3 543.6 L269.7 540.5 L269.8 537.4 L269.7 534.3 L269.4 531.0 L268.8 527.8 L268.0 524.5 L267.0 521.2 L265.7 517.9 L264.2 514.6 L262.5 511.4 L260.5 508.2 L258.4 505.0 L256.0 501.9 L253.5 498.8 L250.7 495.9 L247.9 493.0 L244.8 490.3 L241.6 487.7 L238.3 485.1 L234.8 482.8 L231.3 480.6 L227.6 478.5 L223.9 476.6 L220.0 474.8 L216.2 473.3 L212.3 471.9 L208.3 470.7 L204.4 469.7 L200.5 468.9 L196.6 468.3 L192.7 467.8 L188.9 467.6 L185.1 467.6 L181.4 467.8 L177.8 468.2 L174.3 468.8 L171.0 469.6 L167.7 470.6 L164.7 471.8 L161.7 473.2 L159.0 474.7 L156.4 476.4 L154.0 478.3 L151.8 480.4 L149.8 482.6 L148.0 485.0 L146.5 487.5 L145.1 490.1 L144.0 492.8 L143.1 495.7 L142.5 498.6 L142.1 501.7 L142.0 504.8 L142.1 507.9 L142.4 511.2 L143.0 514.4 L143.8 517.7 L144.8 521.0 L146.1 524.3 L147.6 527.6 L149.3 530.8 L151.3 534.0 L153.4 537.2 L155.8 540.3 L158.3 543.4 L161.1 546.3 L163.9 549.2 L167.0 551.9 L170.2 554.5 L173.5 557.1 L177.0 559.4 L180.5 561.6 L184.2 563.7 L187.9 565.6 L191.8 567.4 L195.6 568.9 L199.5 570.3 L203.5 571.5 L207.4 572.5 L211.3 573.3 L215.2 573.9 L219.1 574.4 L222.9 574.6 L226.7 574.6 L230.4 574.4 L234.0 574.0 L237.5 573.4 L240.8 572.6 L244.1 571.6 L247.1 570.4 L250.1 569.0 L252.8 567.5 L255.4 565.8 L257.8 563.9 L260.0 561.8 L262.0 559.6 L263.8 557.2 L265.3 554.7 Z" fill="rgba(0,0,0,0.05)" />
<path d="M175.56 451.03 L167.96 470.53" stroke="rgba(0,0,0,0.3)" stroke-width="1.6" fill="none"/>
<path d="M157.1 463.47 L149.5 482.97" stroke="rgba(0,0,0,0.3)" stroke-width="1.6" fill="none"/>
<path d="M169.01 527.17 L161.41 546.67" stroke="rgba(0,0,0,0.3)" stroke-width="1.6" fill="none"/>
<path d="M139.1 404.1 L145.8 402.1 L152.7 400.5 L159.9 399.3 L167.3 398.5 L174.8 398.0 L182.5 398.0 L190.3 398.4 L198.2 399.2 L206.2 400.4 L214.2 401.9 L222.2 403.9 L230.2 406.2 L238.1 408.9 L245.9 412.0 L253.6 415.4 L261.2 419.1 L268.5 423.2 L275.7 427.6 L282.6 432.2 L289.3 437.2 L295.7 442.3 L301.8 447.8 L307.5 453.4 L312.9 459.2 L317.9 465.2 L322.5 471.3 L326.7 477.5 L330.5 483.9 L333.8 490.3 L336.7 496.8 L339.1 503.3 L341.0 509.8 L342.5 516.2 L343.5 522.7 L343.9 529.0 L343.9 535.2 L343.4 541.4 L342.4 547.4 L340.9 553.2 L338.9 558.8 L336.5 564.2 L333.5 569.4 L330.2 574.3 L326.4 579.0 L322.1 583.4 L317.5 587.4 L312.4 591.2 L307.0 594.6 L301.3 597.6 L295.1 600.3 L288.7 602.7 L282.0 604.6 L275.1 606.2 L267.9 607.4 L260.5 608.2 L253.0 608.6 L245.3 608.6 L237.4 608.1 L229.5 607.3 L221.5 606.1 L213.5 604.5 L205.5 602.5 L197.6 600.2 L189.7 597.4 L181.8 594.3 L174.2 590.9 L166.6 587.1 L159.3 583.0 L152.1 578.6 L145.2 574.0 L138.6 569.0 L132.2 563.8 L126.2 558.4 L120.4 552.7 L169.0 527.2 L171.9 530.0 L175.0 532.7 L178.2 535.3 L181.5 537.8 L185.0 540.2 L188.5 542.4 L192.2 544.4 L195.9 546.3 L199.7 548.0 L203.6 549.6 L207.5 550.9 L211.4 552.1 L215.4 553.1 L219.3 553.9 L223.2 554.5 L227.0 554.9 L230.8 555.1 L234.6 555.1 L238.3 554.9 L241.8 554.4 L245.3 553.8 L248.6 553.0 L251.9 552.0 L254.9 550.8 L257.8 549.5 L260.6 547.9 L263.1 546.2 L265.5 544.3 L267.7 542.2 L269.7 540.0 L271.5 537.6 L273.0 535.1 L274.3 532.5 L275.4 529.8 L276.3 526.9 L276.9 524.0 L277.3 520.9 L277.4 517.8 L277.3 514.7 L277.0 511.5 L276.4 508.2 L275.6 505.0 L274.6 501.7 L273.3 498.4 L271.8 495.1 L270.0 491.9 L268.1 488.7 L266.0 485.5 L263.6 482.4 L261.1 479.4 L258.4 476.4 L255.5 473.6 L252.4 470.8 L249.3 468.2 L245.9 465.7 L242.5 463.3 L238.9 461.1 L235.3 459.0 L231.6 457.1 L227.8 455.4 L223.9 453.8 L220.0 452.4 L216.1 451.2 L212.2 450.2 L208.2 449.4 L204.3 448.8 L200.5 448.4 L196.7 448.1 L192.9 448.1 L189.2 448.3 L185.6 448.7 L182.2 449.3 L178.8 450.1 L175.6 451.0 Z" fill="#e8318f" stroke="#e8318f" stroke-width="0.7"/>
<path d="M120.4 552.7 L115.0 546.9 L110.0 540.8 L105.4 534.6 L101.2 528.2 L97.4 521.8 L94.1 515.3 L91.3 508.8 L88.9 502.2 L87.1 495.6 L85.7 489.1 L84.8 482.6 L84.4 476.2 L84.6 469.9 L85.2 463.8 L86.3 457.8 L88.0 451.9 L90.1 446.3 L92.7 440.9 L95.8 435.7 L99.3 430.8 L157.1 463.5 L155.4 465.9 L153.8 468.4 L152.5 471.0 L151.5 473.8 L150.6 476.6 L150.0 479.6 L149.7 482.6 L149.6 485.7 L149.7 488.9 L150.1 492.1 L150.7 495.4 L151.5 498.6 L152.6 501.9 L153.9 505.2 L155.4 508.5 L157.2 511.7 L159.2 515.0 L161.3 518.1 L163.7 521.2 L166.3 524.2 L169.0 527.2 Z" fill="#b31a87" stroke="#b31a87" stroke-width="0.7"/>
<path d="M99.3 430.8 L103.7 425.9 L108.5 421.2 L113.7 417.0 L119.5 413.2 L125.6 409.7 L132.2 406.7 L139.1 404.1 L175.6 451.0 L172.4 452.2 L169.3 453.7 L166.5 455.3 L163.8 457.1 L161.4 459.0 L159.1 461.2 L157.1 463.5 Z" fill="#8b2570" stroke="#8b2570" stroke-width="0.7"/>
<path d="M139.1 404.1 L140.6 403.6 L142.1 403.1 L143.6 402.7 L145.1 402.3 L180.2 449.7 L179.0 450.0 L177.8 450.3 L176.7 450.7 L175.6 451.0 Z" fill="#d32a86" />
<path d="M124.0 556.3 L123.1 555.4 L122.2 554.5 L121.3 553.6 L120.4 552.7 L169.0 527.2 L169.7 527.9 L170.4 528.6 L171.2 529.3 L171.9 530.0 Z" fill="#ee4a9e" />
<path d="M175.56 451.03 L139.12 404.09" stroke="#5d1a4e" stroke-width="1.6" fill="none" stroke-linecap="butt"/>
<path d="M180.3 449.68 L145.14 402.28" stroke="rgba(255,255,255,0.18)" stroke-width="1" fill="none"/>
<path d="M157.1 463.47 L99.35 430.81" stroke="#621552" stroke-width="4.6" fill="none" stroke-linecap="butt"/>
<path d="M169.01 527.17 L120.45 552.75" stroke="#7d1264" stroke-width="2.2" fill="none" stroke-linecap="butt"/>
<path d="M171.91 530 L123.96 556.28" stroke="rgba(255,255,255,0.25)" stroke-width="1" fill="none"/>
<path d="M315.0 589.3 L309.8 592.9 L304.2 596.2 L298.2 599.0 L292.0 601.6 L285.5 603.7 L278.6 605.5 L271.6 606.8 L264.3 607.8 L256.8 608.4 L249.2 608.6 L241.5 608.4 L233.6 607.8 L225.7 606.8 L217.7 605.4 L209.7 603.6 L201.7 601.4 L193.8 598.9 L185.9 596.0 L178.2 592.7 L170.6 589.2 L163.1 585.2 L155.9 581.0 L148.9 576.5 L142.1 571.7 L135.6 566.6 L129.4 561.3 L123.5 555.8 L117.9 550.1 L112.8 544.2 L108.0 538.1 L103.6 532.0 L99.6 525.7 L96.1 519.3 L93.0 512.9 L90.4 506.4 L88.2 499.9 L86.5 493.4 L85.3 487.0 L84.6 480.6 L84.4 474.3 L84.7 468.1 L85.5 462.1 L86.7 456.2 L88.5 450.5 L90.7 445.0 L93.4 439.7 L96.5 434.7 L100.1 429.9 L104.1 425.4 L108.6 421.2 L113.4 417.3" fill="none" stroke="rgba(255,255,255,0.32)" stroke-width="1.1"/>
<path d="M178.3 450.2 L181.7 449.4 L185.2 448.8 L188.8 448.3 L192.4 448.1 L196.2 448.1 L200.0 448.3 L203.9 448.7 L207.9 449.3 L211.8 450.1 L215.8 451.1 L219.7 452.3 L223.6 453.7 L227.5 455.3 L231.3 457.0 L235.1 458.9 L238.8 461.0 L242.3 463.2 L245.8 465.6 L249.2 468.1 L252.4 470.8 L255.4 473.5 L258.3 476.4 L261.1 479.3 L263.6 482.4 L266.0 485.5 L268.1 488.7 L270.1 491.9 L271.8 495.2 L273.3 498.5 L274.6 501.8 L275.6 505.1 L276.5 508.4 L277.0 511.6 L277.3 514.9 L277.4 518.1 L277.3 521.2 L276.9 524.2 L276.2 527.2 L275.3 530.0 L274.2 532.8 L272.9 535.4 L271.3 537.9 L269.5 540.2 L267.5 542.5 L265.2 544.5 L262.8 546.4 L260.2 548.1 L257.4 549.7" fill="none" stroke="rgba(255,255,255,0.30)" stroke-width="1.2"/>
<path d="M863.1 517.7 L861.1 524.3 L858.6 530.8 L855.7 537.3 L852.3 543.7 L848.4 549.9 L844.1 556.0 L839.4 561.9 L834.3 567.6 L828.8 573.1 L823.0 578.3 L816.9 583.3 L810.4 588.0 L803.6 592.4 L796.6 596.4 L789.4 600.2 L781.9 603.6 L774.3 606.6 L766.5 609.3 L758.6 611.6 L750.6 613.5 L742.6 615.0 L734.5 616.1 L726.5 616.9 L718.4 617.1 L710.4 617.0 L702.6 616.5 L694.8 615.6 L687.2 614.2 L679.8 612.5 L672.6 610.4 L665.6 607.9 L658.9 605.0 L652.5 601.8 L646.4 598.2 L640.6 594.2 L635.2 590.0 L630.2 585.4 L625.5 580.5 L621.3 575.4 L617.5 570.0 L614.2 564.4 L611.3 558.6 L608.9 552.6 L607.0 546.4 L605.5 540.1 L604.6 533.7 L604.1 527.2 L604.1 520.6 L604.7 514.0 L605.7 507.3 L607.2 500.7 L609.2 494.1 L611.7 487.5 L614.7 481.0 L618.1 474.7 L621.9 468.4 L626.2 462.3 L630.9 456.4 L636.0 450.7 L641.5 445.2 L647.3 440.0 L653.4 435.0 L659.9 430.3 L666.6 425.9 L673.7 421.8 L680.9 418.1 L688.3 414.7 L696.0 411.6 L703.7 408.9 L711.6 406.6 L719.6 404.7 L727.7 403.2 L735.7 402.1 L743.8 401.4 L751.8 401.1 L759.8 401.2 L767.7 401.7 L775.5 402.6 L779.1 407.7 L770.8 406.7 L762.4 406.1 L753.9 406.0 L745.4 406.3 L736.8 407.1 L728.2 408.3 L719.6 409.9 L711.1 412.0 L702.7 414.4 L694.4 417.3 L686.2 420.5 L678.3 424.2 L670.6 428.2 L663.1 432.5 L655.9 437.2 L649.0 442.2 L642.5 447.5 L636.3 453.1 L630.4 459.0 L625.0 465.0 L620.0 471.3 L615.4 477.8 L611.3 484.5 L607.7 491.3 L604.6 498.2 L601.9 505.2 L599.8 512.2 L598.2 519.3 L597.1 526.4 L596.5 533.5 L596.5 540.5 L596.9 547.4 L598.0 554.3 L599.5 561.0 L601.6 567.6 L604.1 574.0 L607.2 580.2 L610.8 586.2 L614.8 591.9 L619.3 597.4 L624.2 602.5 L629.6 607.4 L635.4 611.9 L641.5 616.1 L648.0 620.0 L654.9 623.4 L662.0 626.5 L669.5 629.2 L677.1 631.4 L685.0 633.3 L693.1 634.7 L701.4 635.7 L709.8 636.3 L718.3 636.4 L726.9 636.1 L735.5 635.3 L744.1 634.1 L752.7 632.5 L761.2 630.5 L769.6 628.0 L777.9 625.2 L786.0 621.9 L794.0 618.3 L801.7 614.3 L809.2 610.0 L816.4 605.3 L823.3 600.3 L829.8 595.0 L836.0 589.4 L841.9 583.5 L847.3 577.5 L852.3 571.2 L856.9 564.7 L861.0 558.0 L864.6 551.3 L867.8 544.4 L870.4 537.4 L872.6 530.3 Z" fill="#0a879b" stroke="#0a879b" stroke-width="0.7"/>
<path d="M775.5 402.6 L783.3 404.0 L790.9 405.8 L798.3 408.0 L805.5 410.6 L812.4 413.6 L818.9 417.0 L825.2 420.8 L831.0 424.9 L836.5 429.4 L841.6 434.2 L846.3 439.3 L850.5 444.6 L854.2 450.3 L857.4 456.1 L866.5 464.7 L863.0 458.5 L859.1 452.5 L854.6 446.7 L849.6 441.3 L844.2 436.2 L838.4 431.5 L832.1 427.1 L825.5 423.0 L818.5 419.4 L811.1 416.2 L803.5 413.4 L795.6 411.0 L787.5 409.1 L779.1 407.7 Z" fill="#0c5259" stroke="#0c5259" stroke-width="0.7"/>
<path d="M857.4 456.1 L860.3 462.4 L862.6 468.9 L864.4 475.6 L865.6 482.4 L866.2 489.4 L866.3 496.4 L865.8 503.5 L864.8 510.6 L863.1 517.7 L872.6 530.3 L874.3 522.8 L875.4 515.2 L876.0 507.6 L875.9 500.2 L875.2 492.8 L873.9 485.5 L872.0 478.4 L869.6 471.4 L866.5 464.7 Z" fill="#0a474d" stroke="#0a474d" stroke-width="0.7"/>
<path d="M864.1 469.7 L865.9 476.0 L867.2 482.4 L868.0 489.0 L868.3 495.6 L868.0 502.3 L867.3 509.1 L866.1 515.8 L864.4 522.5 L862.2 529.2 L859.5 535.8 L856.3 542.4 L852.7 548.8 L848.6 555.0 L844.1 561.1 L839.2 567.1 L833.9 572.8 L828.2 578.2 L822.2 583.4 L815.9 588.4 L809.2 593.0 L802.3 597.4 L795.1 601.4 L787.6 605.1 L780.0 608.4 L772.2 611.4 L764.3 613.9 L756.3 616.1 L748.1 617.9 L740.0 619.3 L731.8 620.3 L723.6 620.8 L715.5 621.0 L707.4 620.7 L699.5 620.1 L691.7 619.0 L684.1 617.5 L676.6 615.6 L669.4 613.3 L662.4 610.6 L655.7 607.5 L649.3 604.1 L643.3 600.3 L637.5 596.2 L632.2 591.8 L627.2 587.1 L622.7 582.1 L618.6 576.8 L614.9 571.2 L611.7 565.5 L608.9 559.5 L606.7 553.3 L604.9 547.0 L603.6 540.6 L602.8 534.0 L602.5 527.4 L602.8 520.7 L603.5 514.0 L604.7 507.2 L606.4 500.5 L608.6 493.8 L611.3 487.2 L614.5 480.7 L618.1 474.3 L622.2 468.0 L626.7 461.9 L631.6 456.0 L636.9 450.3 L642.6 444.8 L648.6 439.6 L654.9 434.6 L661.6 430.0 L668.5 425.7 L675.7 421.6 L683.2 418.0 L690.8 414.6 L698.6 411.7 L706.5 409.1 L714.5 406.9 L722.7 405.1 L730.8 403.7 L739.0 402.8 L747.2 402.2 L755.3 402.0 L763.4 402.3 L771.3 403.0 L779.1 404.1 L786.7 405.6 L794.2 407.5 L801.4 409.8 L808.4 412.4 L815.1 415.5 L821.5 418.9 L827.5 422.7 L833.3 426.8 L838.6 431.2 L843.6 436.0 L848.1 441.0 L852.2 446.3 L855.9 451.8 L859.1 457.6 L861.9 463.5 L864.1 469.7 L871.6 477.2 L869.3 470.7 L866.4 464.4 L863.0 458.4 L859.1 452.6 L854.8 447.0 L850.0 441.7 L844.8 436.7 L839.2 432.1 L833.2 427.7 L826.8 423.8 L820.0 420.2 L813.0 417.0 L805.7 414.1 L798.1 411.7 L790.2 409.7 L782.2 408.2 L774.0 407.0 L765.6 406.3 L757.1 406.0 L748.6 406.2 L740.0 406.8 L731.4 407.8 L722.8 409.3 L714.3 411.1 L705.8 413.4 L697.5 416.2 L689.3 419.3 L681.2 422.8 L673.4 426.6 L665.9 430.9 L658.6 435.4 L651.6 440.3 L644.9 445.5 L638.5 451.0 L632.6 456.8 L627.0 462.8 L621.8 469.0 L617.1 475.4 L612.8 482.0 L609.0 488.7 L605.7 495.6 L602.8 502.6 L600.5 509.6 L598.7 516.7 L597.4 523.8 L596.6 530.9 L596.4 537.9 L596.7 544.9 L597.5 551.8 L598.9 558.6 L600.8 565.2 L603.1 571.7 L606.0 578.0 L609.4 584.0 L613.3 589.8 L617.6 595.4 L622.4 600.7 L627.6 605.7 L633.2 610.3 L639.2 614.7 L645.6 618.6 L652.4 622.2 L659.4 625.4 L666.7 628.3 L674.3 630.7 L682.2 632.7 L690.2 634.2 L698.4 635.4 L706.8 636.1 L715.3 636.4 L723.8 636.2 L732.4 635.6 L741.0 634.6 L749.6 633.1 L758.1 631.3 L766.6 629.0 L774.9 626.2 L783.1 623.1 L791.2 619.6 L799.0 615.8 L806.5 611.5 L813.8 607.0 L820.8 602.1 L827.5 596.9 L833.9 591.4 L839.8 585.6 L845.4 579.6 L850.6 573.4 L855.3 567.0 L859.6 560.4 L863.4 553.7 L866.7 546.8 L869.6 539.8 L871.9 532.8 L873.7 525.7 L875.0 518.6 L875.8 511.5 L876.0 504.5 L875.7 497.5 L874.9 490.6 L873.5 483.8 L871.6 477.2 Z" fill="rgba(0,0,0,0.045)" />
<path d="M866.0 471.6 L867.8 478.0 L869.1 484.5 L869.9 491.1 L870.2 497.8 L870.0 504.6 L869.2 511.5 L868.0 518.3 L866.3 525.1 L864.0 531.9 L861.3 538.6 L858.1 545.2 L854.4 551.7 L850.3 558.0 L845.7 564.2 L840.8 570.2 L835.4 576.0 L829.6 581.5 L823.5 586.8 L817.1 591.8 L810.4 596.5 L803.3 600.9 L796.0 605.0 L788.5 608.7 L780.8 612.1 L772.9 615.1 L764.9 617.7 L756.7 619.9 L748.5 621.7 L740.2 623.1 L731.9 624.1 L723.7 624.7 L715.4 624.8 L707.3 624.6 L699.2 623.9 L691.3 622.8 L683.6 621.3 L676.0 619.3 L668.7 617.0 L661.7 614.3 L654.9 611.2 L648.4 607.7 L642.3 603.9 L636.5 599.8 L631.0 595.3 L626.0 590.5 L621.4 585.4 L617.2 580.0 L613.5 574.4 L610.3 568.6 L607.5 562.5 L605.2 556.3 L603.4 549.9 L602.1 543.4 L601.3 536.8 L601.0 530.0 L601.2 523.2 L602.0 516.4 L603.2 509.6 L604.9 502.8 L607.2 496.0 L609.9 489.3 L613.1 482.7 L616.8 476.2 L620.9 469.9 L625.5 463.7 L630.4 457.7 L635.8 451.9 L641.6 446.4 L647.7 441.1 L654.1 436.1 L660.8 431.4 L667.9 427.0 L675.2 422.9 L682.7 419.2 L690.4 415.8 L698.3 412.8 L706.3 410.2 L714.5 408.0 L722.7 406.2 L731.0 404.8 L739.3 403.8 L747.5 403.2 L755.8 403.0 L763.9 403.3 L772.0 404.0 L779.9 405.1 L787.6 406.6 L795.2 408.5 L802.5 410.9 L809.5 413.6 L816.3 416.7 L822.8 420.1 L828.9 424.0 L834.7 428.1 L840.2 432.6 L845.2 437.4 L849.8 442.5 L854.0 447.8 L857.7 453.5 L860.9 459.3 L863.7 465.3 L866.0 471.6 L871.6 477.2 L869.3 470.7 L866.4 464.4 L863.0 458.4 L859.1 452.6 L854.8 447.0 L850.0 441.7 L844.8 436.7 L839.2 432.1 L833.2 427.7 L826.8 423.8 L820.0 420.2 L813.0 417.0 L805.7 414.1 L798.1 411.7 L790.2 409.7 L782.2 408.2 L774.0 407.0 L765.6 406.3 L757.1 406.0 L748.6 406.2 L740.0 406.8 L731.4 407.8 L722.8 409.3 L714.3 411.1 L705.8 413.4 L697.5 416.2 L689.3 419.3 L681.2 422.8 L673.4 426.6 L665.9 430.9 L658.6 435.4 L651.6 440.3 L644.9 445.5 L638.5 451.0 L632.6 456.8 L627.0 462.8 L621.8 469.0 L617.1 475.4 L612.8 482.0 L609.0 488.7 L605.7 495.6 L602.8 502.6 L600.5 509.6 L598.7 516.7 L597.4 523.8 L596.6 530.9 L596.4 537.9 L596.7 544.9 L597.5 551.8 L598.9 558.6 L600.8 565.2 L603.1 571.7 L606.0 578.0 L609.4 584.0 L613.3 589.8 L617.6 595.4 L622.4 600.7 L627.6 605.7 L633.2 610.3 L639.2 614.7 L645.6 618.6 L652.4 622.2 L659.4 625.4 L666.7 628.3 L674.3 630.7 L682.2 632.7 L690.2 634.2 L698.4 635.4 L706.8 636.1 L715.3 636.4 L723.8 636.2 L732.4 635.6 L741.0 634.6 L749.6 633.1 L758.1 631.3 L766.6 629.0 L774.9 626.2 L783.1 623.1 L791.2 619.6 L799.0 615.8 L806.5 611.5 L813.8 607.0 L820.8 602.1 L827.5 596.9 L833.9 591.4 L839.8 585.6 L845.4 579.6 L850.6 573.4 L855.3 567.0 L859.6 560.4 L863.4 553.7 L866.7 546.8 L869.6 539.8 L871.9 532.8 L873.7 525.7 L875.0 518.6 L875.8 511.5 L876.0 504.5 L875.7 497.5 L874.9 490.6 L873.5 483.8 L871.6 477.2 Z" fill="rgba(0,0,0,0.045)" />
<path d="M867.9 473.4 L869.7 479.9 L871.0 486.5 L871.8 493.2 L872.1 500.1 L871.9 506.9 L871.2 513.8 L869.9 520.8 L868.1 527.7 L865.9 534.5 L863.1 541.3 L859.9 548.0 L856.1 554.6 L852.0 561.0 L847.4 567.3 L842.3 573.3 L836.9 579.2 L831.1 584.8 L824.9 590.2 L818.4 595.2 L811.5 600.0 L804.4 604.5 L797.0 608.6 L789.4 612.4 L781.6 615.8 L773.6 618.8 L765.4 621.4 L757.2 623.7 L748.9 625.5 L740.5 627.0 L732.1 628.0 L723.7 628.5 L715.4 628.7 L707.1 628.4 L699.0 627.7 L691.0 626.6 L683.1 625.1 L675.5 623.1 L668.1 620.8 L660.9 618.0 L654.0 614.9 L647.5 611.4 L641.2 607.5 L635.4 603.3 L629.9 598.7 L624.8 593.9 L620.1 588.7 L615.9 583.3 L612.2 577.6 L608.9 571.7 L606.0 565.6 L603.7 559.3 L601.9 552.8 L600.6 546.2 L599.8 539.5 L599.5 532.7 L599.7 525.8 L600.4 518.9 L601.7 512.0 L603.5 505.1 L605.7 498.2 L608.5 491.4 L611.7 484.7 L615.5 478.1 L619.6 471.7 L624.2 465.4 L629.3 459.4 L634.7 453.5 L640.5 447.9 L646.7 442.6 L653.2 437.5 L660.1 432.7 L667.2 428.3 L674.6 424.1 L682.2 420.4 L690.0 416.9 L698.0 413.9 L706.2 411.3 L714.4 409.0 L722.7 407.2 L731.1 405.8 L739.5 404.8 L747.9 404.2 L756.2 404.0 L764.5 404.3 L772.6 405.0 L780.6 406.1 L788.5 407.6 L796.1 409.6 L803.5 412.0 L810.7 414.7 L817.6 417.8 L824.1 421.3 L830.4 425.2 L836.2 429.4 L841.7 434.0 L846.8 438.8 L851.5 444.0 L855.7 449.4 L859.4 455.1 L862.7 461.0 L865.6 467.1 L867.9 473.4 L871.6 477.2 L869.3 470.7 L866.4 464.4 L863.0 458.4 L859.1 452.6 L854.8 447.0 L850.0 441.7 L844.8 436.7 L839.2 432.1 L833.2 427.7 L826.8 423.8 L820.0 420.2 L813.0 417.0 L805.7 414.1 L798.1 411.7 L790.2 409.7 L782.2 408.2 L774.0 407.0 L765.6 406.3 L757.1 406.0 L748.6 406.2 L740.0 406.8 L731.4 407.8 L722.8 409.3 L714.3 411.1 L705.8 413.4 L697.5 416.2 L689.3 419.3 L681.2 422.8 L673.4 426.6 L665.9 430.9 L658.6 435.4 L651.6 440.3 L644.9 445.5 L638.5 451.0 L632.6 456.8 L627.0 462.8 L621.8 469.0 L617.1 475.4 L612.8 482.0 L609.0 488.7 L605.7 495.6 L602.8 502.6 L600.5 509.6 L598.7 516.7 L597.4 523.8 L596.6 530.9 L596.4 537.9 L596.7 544.9 L597.5 551.8 L598.9 558.6 L600.8 565.2 L603.1 571.7 L606.0 578.0 L609.4 584.0 L613.3 589.8 L617.6 595.4 L622.4 600.7 L627.6 605.7 L633.2 610.3 L639.2 614.7 L645.6 618.6 L652.4 622.2 L659.4 625.4 L666.7 628.3 L674.3 630.7 L682.2 632.7 L690.2 634.2 L698.4 635.4 L706.8 636.1 L715.3 636.4 L723.8 636.2 L732.4 635.6 L741.0 634.6 L749.6 633.1 L758.1 631.3 L766.6 629.0 L774.9 626.2 L783.1 623.1 L791.2 619.6 L799.0 615.8 L806.5 611.5 L813.8 607.0 L820.8 602.1 L827.5 596.9 L833.9 591.4 L839.8 585.6 L845.4 579.6 L850.6 573.4 L855.3 567.0 L859.6 560.4 L863.4 553.7 L866.7 546.8 L869.6 539.8 L871.9 532.8 L873.7 525.7 L875.0 518.6 L875.8 511.5 L876.0 504.5 L875.7 497.5 L874.9 490.6 L873.5 483.8 L871.6 477.2 Z" fill="rgba(0,0,0,0.045)" />
<path d="M869.8 475.3 L871.6 481.9 L873.0 488.6 L873.8 495.4 L874.1 502.3 L873.8 509.2 L873.1 516.2 L871.8 523.2 L870.0 530.2 L867.7 537.2 L864.9 544.0 L861.6 550.8 L857.9 557.5 L853.6 564.0 L849.0 570.3 L843.9 576.5 L838.4 582.4 L832.5 588.1 L826.2 593.5 L819.6 598.7 L812.7 603.5 L805.5 608.0 L798.0 612.2 L790.3 616.0 L782.4 619.5 L774.3 622.5 L766.0 625.2 L757.7 627.5 L749.2 629.3 L740.8 630.8 L732.2 631.8 L723.8 632.4 L715.3 632.5 L707.0 632.3 L698.7 631.6 L690.6 630.4 L682.6 628.9 L674.9 626.9 L667.4 624.5 L660.2 621.7 L653.2 618.6 L646.6 615.0 L640.2 611.1 L634.3 606.8 L628.8 602.2 L623.6 597.3 L618.9 592.1 L614.6 586.6 L610.8 580.8 L607.4 574.8 L604.6 568.6 L602.2 562.2 L600.4 555.7 L599.0 549.0 L598.2 542.2 L597.9 535.3 L598.2 528.3 L598.9 521.3 L600.2 514.3 L602.0 507.3 L604.3 500.4 L607.1 493.5 L610.4 486.7 L614.1 480.1 L618.4 473.6 L623.0 467.2 L628.1 461.1 L633.6 455.1 L639.5 449.5 L645.8 444.0 L652.4 438.9 L659.3 434.1 L666.5 429.6 L674.0 425.4 L681.7 421.6 L689.6 418.1 L697.7 415.0 L706.0 412.4 L714.3 410.1 L722.8 408.2 L731.2 406.8 L739.8 405.8 L748.2 405.2 L756.7 405.0 L765.0 405.3 L773.3 406.0 L781.4 407.1 L789.4 408.7 L797.1 410.7 L804.6 413.0 L811.8 415.8 L818.8 419.0 L825.4 422.6 L831.8 426.5 L837.7 430.7 L843.2 435.4 L848.4 440.3 L853.1 445.5 L857.4 451.0 L861.2 456.7 L864.6 462.7 L867.4 468.9 L869.8 475.3 L871.6 477.2 L869.3 470.7 L866.4 464.4 L863.0 458.4 L859.1 452.6 L854.8 447.0 L850.0 441.7 L844.8 436.7 L839.2 432.1 L833.2 427.7 L826.8 423.8 L820.0 420.2 L813.0 417.0 L805.7 414.1 L798.1 411.7 L790.2 409.7 L782.2 408.2 L774.0 407.0 L765.6 406.3 L757.1 406.0 L748.6 406.2 L740.0 406.8 L731.4 407.8 L722.8 409.3 L714.3 411.1 L705.8 413.4 L697.5 416.2 L689.3 419.3 L681.2 422.8 L673.4 426.6 L665.9 430.9 L658.6 435.4 L651.6 440.3 L644.9 445.5 L638.5 451.0 L632.6 456.8 L627.0 462.8 L621.8 469.0 L617.1 475.4 L612.8 482.0 L609.0 488.7 L605.7 495.6 L602.8 502.6 L600.5 509.6 L598.7 516.7 L597.4 523.8 L596.6 530.9 L596.4 537.9 L596.7 544.9 L597.5 551.8 L598.9 558.6 L600.8 565.2 L603.1 571.7 L606.0 578.0 L609.4 584.0 L613.3 589.8 L617.6 595.4 L622.4 600.7 L627.6 605.7 L633.2 610.3 L639.2 614.7 L645.6 618.6 L652.4 622.2 L659.4 625.4 L666.7 628.3 L674.3 630.7 L682.2 632.7 L690.2 634.2 L698.4 635.4 L706.8 636.1 L715.3 636.4 L723.8 636.2 L732.4 635.6 L741.0 634.6 L749.6 633.1 L758.1 631.3 L766.6 629.0 L774.9 626.2 L783.1 623.1 L791.2 619.6 L799.0 615.8 L806.5 611.5 L813.8 607.0 L820.8 602.1 L827.5 596.9 L833.9 591.4 L839.8 585.6 L845.4 579.6 L850.6 573.4 L855.3 567.0 L859.6 560.4 L863.4 553.7 L866.7 546.8 L869.6 539.8 L871.9 532.8 L873.7 525.7 L875.0 518.6 L875.8 511.5 L876.0 504.5 L875.7 497.5 L874.9 490.6 L873.5 483.8 L871.6 477.2 Z" fill="rgba(0,0,0,0.045)" />
<path d="M775.45 402.6 L779.11 407.67" stroke="rgba(0,0,0,0.3)" stroke-width="1.6" fill="none"/>
<path d="M857.44 456.12 L866.51 464.72" stroke="rgba(0,0,0,0.3)" stroke-width="1.6" fill="none"/>
<path d="M863.14 517.65 L872.59 530.32" stroke="rgba(0,0,0,0.3)" stroke-width="1.6" fill="none"/>
<path d="M800.6 513.5 L799.6 516.9 L798.5 520.3 L797.0 523.6 L795.4 526.8 L793.5 530.0 L791.3 533.1 L789.0 536.1 L786.4 539.0 L783.7 541.8 L780.7 544.5 L777.6 547.0 L774.3 549.4 L770.9 551.6 L767.3 553.7 L763.6 555.6 L759.8 557.3 L755.8 558.8 L751.8 560.2 L747.7 561.3 L743.6 562.3 L739.4 563.0 L735.3 563.6 L731.1 563.9 L726.9 564.0 L722.7 563.9 L718.6 563.6 L714.5 563.1 L710.5 562.4 L706.6 561.5 L702.8 560.4 L699.1 559.0 L695.6 557.5 L692.1 555.9 L688.9 554.0 L685.8 551.9 L682.9 549.7 L680.1 547.4 L677.6 544.9 L675.3 542.2 L673.2 539.5 L671.4 536.6 L669.7 533.6 L668.3 530.5 L667.2 527.3 L666.3 524.1 L665.7 520.8 L665.3 517.4 L665.1 514.0 L665.3 510.6 L665.7 507.2 L666.3 503.8 L667.2 500.4 L668.4 497.0 L669.7 493.7 L671.4 490.4 L673.2 487.3 L675.3 484.1 L677.7 481.1 L680.2 478.2 L682.9 475.4 L685.8 472.7 L688.9 470.1 L692.2 467.7 L695.6 465.5 L699.2 463.4 L702.9 461.5 L706.7 459.7 L710.6 458.2 L714.6 456.8 L718.6 455.6 L722.8 454.7 L726.9 453.9 L731.1 453.3 L735.3 453.0 L739.5 452.8 L743.7 452.9 L747.8 453.1 L751.9 453.6 L755.9 454.3 L763.9 473.3 L759.9 472.6 L755.8 472.1 L751.7 471.9 L747.5 471.8 L743.3 472.0 L739.1 472.3 L734.9 472.9 L730.8 473.7 L726.6 474.6 L722.6 475.8 L718.6 477.2 L714.7 478.7 L710.9 480.5 L707.2 482.4 L703.6 484.5 L700.2 486.7 L696.9 489.1 L693.8 491.7 L690.9 494.4 L688.2 497.2 L685.7 500.1 L683.3 503.1 L681.2 506.3 L679.4 509.4 L677.7 512.7 L676.4 516.0 L675.2 519.4 L674.3 522.8 L673.7 526.2 L673.3 529.6 L673.1 533.0 L673.3 536.4 L673.7 539.8 L674.3 543.1 L675.2 546.3 L676.3 549.5 L677.7 552.6 L679.4 555.6 L681.2 558.5 L683.3 561.2 L685.6 563.9 L688.1 566.4 L690.9 568.7 L693.8 570.9 L696.9 573.0 L700.1 574.9 L703.6 576.5 L707.1 578.0 L710.8 579.4 L714.6 580.5 L718.5 581.4 L722.5 582.1 L726.6 582.6 L730.7 582.9 L734.9 583.0 L739.1 582.9 L743.3 582.6 L747.4 582.0 L751.6 581.3 L755.7 580.3 L759.8 579.2 L763.8 577.8 L767.8 576.3 L771.6 574.6 L775.3 572.7 L778.9 570.6 L782.3 568.4 L785.6 566.0 L788.7 563.5 L791.7 560.8 L794.4 558.0 L797.0 555.1 L799.3 552.1 L801.5 549.0 L803.4 545.8 L805.0 542.6 L806.5 539.3 L807.6 535.9 L808.6 532.5 Z" fill="#0a8598" stroke="#0a8598" stroke-width="0.7"/>
<path d="M755.9 454.3 L759.9 455.2 L763.9 456.3 L767.7 457.7 L771.4 459.3 L775.0 461.0 L778.4 463.0 L781.6 465.1 L784.6 467.4 L787.4 469.9 L789.9 472.5 L792.3 475.3 L794.4 478.2 L796.2 481.3 L804.2 500.3 L802.4 497.2 L800.3 494.3 L797.9 491.5 L795.4 488.9 L792.6 486.4 L789.6 484.1 L786.4 482.0 L783.0 480.0 L779.4 478.3 L775.7 476.7 L771.9 475.3 L767.9 474.2 L763.9 473.3 Z" fill="#0a484d" stroke="#0a484d" stroke-width="0.7"/>
<path d="M796.2 481.3 L797.9 484.6 L799.3 488.0 L800.4 491.5 L801.2 495.1 L801.7 498.7 L801.9 502.4 L801.7 506.1 L801.3 509.8 L800.6 513.5 L808.6 532.5 L809.3 528.8 L809.7 525.1 L809.9 521.4 L809.7 517.7 L809.2 514.1 L808.4 510.5 L807.3 507.0 L805.9 503.6 L804.2 500.3 Z" fill="#083f43" stroke="#083f43" stroke-width="0.7"/>
<path d="M802.7 497.6 L803.4 500.9 L803.7 504.3 L803.9 507.7 L803.7 511.1 L803.3 514.5 L802.6 518.0 L801.7 521.4 L800.6 524.7 L799.2 528.1 L797.5 531.3 L795.6 534.5 L793.5 537.7 L791.2 540.7 L788.6 543.6 L785.9 546.4 L782.9 549.1 L779.8 551.6 L776.5 554.0 L773.1 556.3 L769.5 558.4 L765.8 560.3 L761.9 562.0 L758.0 563.5 L754.0 564.9 L749.9 566.0 L745.8 567.0 L741.6 567.7 L737.4 568.3 L733.2 568.6 L729.0 568.8 L724.8 568.7 L720.6 568.4 L716.6 567.9 L712.6 567.2 L708.6 566.2 L704.8 565.1 L701.1 563.8 L697.5 562.3 L694.1 560.6 L690.8 558.7 L687.7 556.7 L684.8 554.5 L682.1 552.1 L679.6 549.6 L677.3 546.9 L675.2 544.1 L673.3 541.2 L671.7 538.2 L670.3 535.1 L669.2 531.9 L668.3 528.7 L667.6 525.4 L667.3 522.0 L667.1 518.6 L667.3 515.2 L667.7 511.8 L668.4 508.3 L669.3 504.9 L670.4 501.6 L671.8 498.2 L673.5 495.0 L675.4 491.8 L677.5 488.6 L679.8 485.6 L682.4 482.7 L685.1 479.9 L688.1 477.2 L691.2 474.7 L694.5 472.3 L697.9 470.0 L701.5 467.9 L705.2 466.0 L709.1 464.3 L713.0 462.8 L717.0 461.4 L721.1 460.3 L725.2 459.3 L729.4 458.6 L733.6 458.0 L737.8 457.7 L742.0 457.5 L746.2 457.6 L750.4 457.9 L754.4 458.4 L758.4 459.1 L762.4 460.1 L766.2 461.2 L769.9 462.5 L773.5 464.0 L776.9 465.7 L780.2 467.6 L783.3 469.6 L786.2 471.8 L788.9 474.2 L791.4 476.7 L793.7 479.4 L795.8 482.2 L797.7 485.1 L799.3 488.1 L800.7 491.2 L801.8 494.4 L802.7 497.6 L808.7 511.9 L807.8 508.6 L806.7 505.4 L805.3 502.3 L803.7 499.3 L801.8 496.4 L799.7 493.6 L797.4 491.0 L794.9 488.5 L792.2 486.1 L789.3 483.9 L786.2 481.8 L782.9 480.0 L779.5 478.3 L775.9 476.8 L772.2 475.4 L768.4 474.3 L764.4 473.4 L760.4 472.7 L756.4 472.2 L752.2 471.9 L748.0 471.8 L743.8 471.9 L739.6 472.3 L735.4 472.8 L731.2 473.6 L727.1 474.5 L723.0 475.7 L719.0 477.0 L715.1 478.6 L711.2 480.3 L707.5 482.2 L703.9 484.3 L700.5 486.5 L697.2 488.9 L694.1 491.5 L691.1 494.1 L688.4 496.9 L685.8 499.9 L683.5 502.9 L681.4 506.0 L679.5 509.2 L677.8 512.5 L676.4 515.8 L675.3 519.2 L674.4 522.6 L673.7 526.0 L673.3 529.4 L673.1 532.8 L673.3 536.2 L673.6 539.6 L674.3 542.9 L675.2 546.2 L676.3 549.4 L677.7 552.5 L679.3 555.5 L681.2 558.4 L683.3 561.2 L685.6 563.8 L688.1 566.3 L690.8 568.7 L693.7 570.9 L696.8 573.0 L700.1 574.8 L703.5 576.5 L707.1 578.0 L710.8 579.4 L714.6 580.5 L718.6 581.4 L722.6 582.1 L726.6 582.6 L730.8 582.9 L735.0 583.0 L739.2 582.9 L743.4 582.5 L747.6 582.0 L751.8 581.2 L755.9 580.3 L760.0 579.1 L764.0 577.8 L767.9 576.2 L771.8 574.5 L775.5 572.6 L779.1 570.5 L782.5 568.3 L785.8 565.9 L788.9 563.3 L791.9 560.7 L794.6 557.9 L797.2 554.9 L799.5 551.9 L801.6 548.8 L803.5 545.6 L805.2 542.3 L806.6 539.0 L807.7 535.6 L808.6 532.2 L809.3 528.8 L809.7 525.4 L809.9 522.0 L809.7 518.6 L809.4 515.2 L808.7 511.9 Z" fill="rgba(0,0,0,0.05)" />
<path d="M804.7 502.4 L805.4 505.7 L805.7 509.1 L805.9 512.5 L805.7 515.9 L805.3 519.3 L804.6 522.7 L803.7 526.1 L802.6 529.5 L801.2 532.8 L799.5 536.1 L797.6 539.3 L795.5 542.4 L793.2 545.4 L790.6 548.4 L787.9 551.2 L784.9 553.8 L781.8 556.4 L778.5 558.8 L775.1 561.0 L771.5 563.1 L767.8 565.0 L763.9 566.7 L760.0 568.3 L756.0 569.6 L751.9 570.8 L747.8 571.7 L743.6 572.5 L739.4 573.0 L735.2 573.4 L731.0 573.5 L726.8 573.4 L722.6 573.1 L718.6 572.6 L714.6 571.9 L710.6 571.0 L706.8 569.9 L703.1 568.5 L699.5 567.0 L696.1 565.3 L692.8 563.5 L689.7 561.4 L686.8 559.2 L684.1 556.8 L681.6 554.3 L679.3 551.7 L677.2 548.9 L675.3 546.0 L673.7 543.0 L672.3 539.9 L671.2 536.7 L670.3 533.4 L669.6 530.1 L669.3 526.7 L669.1 523.3 L669.3 519.9 L669.7 516.5 L670.4 513.1 L671.3 509.7 L672.4 506.3 L673.8 503.0 L675.5 499.7 L677.4 496.5 L679.5 493.4 L681.8 490.4 L684.4 487.4 L687.1 484.6 L690.1 482.0 L693.2 479.4 L696.5 477.0 L699.9 474.8 L703.5 472.7 L707.2 470.8 L711.1 469.1 L715.0 467.5 L719.0 466.2 L723.1 465.0 L727.2 464.1 L731.4 463.3 L735.6 462.8 L739.8 462.4 L744.0 462.3 L748.2 462.4 L752.4 462.7 L756.4 463.2 L760.4 463.9 L764.4 464.8 L768.2 465.9 L771.9 467.3 L775.5 468.8 L778.9 470.5 L782.2 472.3 L785.3 474.4 L788.2 476.6 L790.9 479.0 L793.4 481.5 L795.7 484.1 L797.8 486.9 L799.7 489.8 L801.3 492.8 L802.7 495.9 L803.8 499.1 L804.7 502.4 L808.7 511.9 L807.8 508.6 L806.7 505.4 L805.3 502.3 L803.7 499.3 L801.8 496.4 L799.7 493.6 L797.4 491.0 L794.9 488.5 L792.2 486.1 L789.3 483.9 L786.2 481.8 L782.9 480.0 L779.5 478.3 L775.9 476.8 L772.2 475.4 L768.4 474.3 L764.4 473.4 L760.4 472.7 L756.4 472.2 L752.2 471.9 L748.0 471.8 L743.8 471.9 L739.6 472.3 L735.4 472.8 L731.2 473.6 L727.1 474.5 L723.0 475.7 L719.0 477.0 L715.1 478.6 L711.2 480.3 L707.5 482.2 L703.9 484.3 L700.5 486.5 L697.2 488.9 L694.1 491.5 L691.1 494.1 L688.4 496.9 L685.8 499.9 L683.5 502.9 L681.4 506.0 L679.5 509.2 L677.8 512.5 L676.4 515.8 L675.3 519.2 L674.4 522.6 L673.7 526.0 L673.3 529.4 L673.1 532.8 L673.3 536.2 L673.6 539.6 L674.3 542.9 L675.2 546.2 L676.3 549.4 L677.7 552.5 L679.3 555.5 L681.2 558.4 L683.3 561.2 L685.6 563.8 L688.1 566.3 L690.8 568.7 L693.7 570.9 L696.8 573.0 L700.1 574.8 L703.5 576.5 L707.1 578.0 L710.8 579.4 L714.6 580.5 L718.6 581.4 L722.6 582.1 L726.6 582.6 L730.8 582.9 L735.0 583.0 L739.2 582.9 L743.4 582.5 L747.6 582.0 L751.8 581.2 L755.9 580.3 L760.0 579.1 L764.0 577.8 L767.9 576.2 L771.8 574.5 L775.5 572.6 L779.1 570.5 L782.5 568.3 L785.8 565.9 L788.9 563.3 L791.9 560.7 L794.6 557.9 L797.2 554.9 L799.5 551.9 L801.6 548.8 L803.5 545.6 L805.2 542.3 L806.6 539.0 L807.7 535.6 L808.6 532.2 L809.3 528.8 L809.7 525.4 L809.9 522.0 L809.7 518.6 L809.4 515.2 L808.7 511.9 Z" fill="rgba(0,0,0,0.05)" />
<path d="M806.7 507.1 L807.4 510.4 L807.7 513.8 L807.9 517.2 L807.7 520.6 L807.3 524.0 L806.6 527.5 L805.7 530.9 L804.6 534.2 L803.2 537.6 L801.5 540.8 L799.6 544.0 L797.5 547.2 L795.2 550.2 L792.6 553.1 L789.9 555.9 L786.9 558.6 L783.8 561.1 L780.5 563.5 L777.1 565.8 L773.5 567.9 L769.8 569.8 L765.9 571.5 L762.0 573.0 L758.0 574.4 L753.9 575.5 L749.8 576.5 L745.6 577.2 L741.4 577.8 L737.2 578.1 L733.0 578.3 L728.8 578.2 L724.6 577.9 L720.6 577.4 L716.6 576.7 L712.6 575.7 L708.8 574.6 L705.1 573.3 L701.5 571.8 L698.1 570.1 L694.8 568.2 L691.7 566.2 L688.8 564.0 L686.1 561.6 L683.6 559.1 L681.3 556.4 L679.2 553.6 L677.3 550.7 L675.7 547.7 L674.3 544.6 L673.2 541.4 L672.3 538.2 L671.6 534.9 L671.3 531.5 L671.1 528.1 L671.3 524.7 L671.7 521.3 L672.4 517.8 L673.3 514.4 L674.4 511.1 L675.8 507.7 L677.5 504.5 L679.4 501.3 L681.5 498.1 L683.8 495.1 L686.4 492.2 L689.1 489.4 L692.1 486.7 L695.2 484.2 L698.5 481.8 L701.9 479.5 L705.5 477.4 L709.2 475.5 L713.1 473.8 L717.0 472.3 L721.0 470.9 L725.1 469.8 L729.2 468.8 L733.4 468.1 L737.6 467.5 L741.8 467.2 L746.0 467.0 L750.2 467.1 L754.4 467.4 L758.4 467.9 L762.4 468.6 L766.4 469.6 L770.2 470.7 L773.9 472.0 L777.5 473.5 L780.9 475.2 L784.2 477.1 L787.3 479.1 L790.2 481.3 L792.9 483.7 L795.4 486.2 L797.7 488.9 L799.8 491.7 L801.7 494.6 L803.3 497.6 L804.7 500.7 L805.8 503.9 L806.7 507.1 L808.7 511.9 L807.8 508.6 L806.7 505.4 L805.3 502.3 L803.7 499.3 L801.8 496.4 L799.7 493.6 L797.4 491.0 L794.9 488.5 L792.2 486.1 L789.3 483.9 L786.2 481.8 L782.9 480.0 L779.5 478.3 L775.9 476.8 L772.2 475.4 L768.4 474.3 L764.4 473.4 L760.4 472.7 L756.4 472.2 L752.2 471.9 L748.0 471.8 L743.8 471.9 L739.6 472.3 L735.4 472.8 L731.2 473.6 L727.1 474.5 L723.0 475.7 L719.0 477.0 L715.1 478.6 L711.2 480.3 L707.5 482.2 L703.9 484.3 L700.5 486.5 L697.2 488.9 L694.1 491.5 L691.1 494.1 L688.4 496.9 L685.8 499.9 L683.5 502.9 L681.4 506.0 L679.5 509.2 L677.8 512.5 L676.4 515.8 L675.3 519.2 L674.4 522.6 L673.7 526.0 L673.3 529.4 L673.1 532.8 L673.3 536.2 L673.6 539.6 L674.3 542.9 L675.2 546.2 L676.3 549.4 L677.7 552.5 L679.3 555.5 L681.2 558.4 L683.3 561.2 L685.6 563.8 L688.1 566.3 L690.8 568.7 L693.7 570.9 L696.8 573.0 L700.1 574.8 L703.5 576.5 L707.1 578.0 L710.8 579.4 L714.6 580.5 L718.6 581.4 L722.6 582.1 L726.6 582.6 L730.8 582.9 L735.0 583.0 L739.2 582.9 L743.4 582.5 L747.6 582.0 L751.8 581.2 L755.9 580.3 L760.0 579.1 L764.0 577.8 L767.9 576.2 L771.8 574.5 L775.5 572.6 L779.1 570.5 L782.5 568.3 L785.8 565.9 L788.9 563.3 L791.9 560.7 L794.6 557.9 L797.2 554.9 L799.5 551.9 L801.6 548.8 L803.5 545.6 L805.2 542.3 L806.6 539.0 L807.7 535.6 L808.6 532.2 L809.3 528.8 L809.7 525.4 L809.9 522.0 L809.7 518.6 L809.4 515.2 L808.7 511.9 Z" fill="rgba(0,0,0,0.05)" />
<path d="M755.88 454.28 L763.88 473.28" stroke="rgba(0,0,0,0.3)" stroke-width="1.6" fill="none"/>
<path d="M796.24 481.26 L804.24 500.26" stroke="rgba(0,0,0,0.3)" stroke-width="1.6" fill="none"/>
<path d="M800.57 513.53 L808.57 532.53" stroke="rgba(0,0,0,0.3)" stroke-width="1.6" fill="none"/>
<path d="M863.1 517.7 L861.1 524.3 L858.6 530.8 L855.7 537.3 L852.3 543.7 L848.4 549.9 L844.1 556.0 L839.4 561.9 L834.3 567.6 L828.8 573.1 L823.0 578.3 L816.9 583.3 L810.4 588.0 L803.6 592.4 L796.6 596.4 L789.4 600.2 L781.9 603.6 L774.3 606.6 L766.5 609.3 L758.6 611.6 L750.6 613.5 L742.6 615.0 L734.5 616.1 L726.5 616.9 L718.4 617.1 L710.4 617.0 L702.6 616.5 L694.8 615.6 L687.2 614.2 L679.8 612.5 L672.6 610.4 L665.6 607.9 L658.9 605.0 L652.5 601.8 L646.4 598.2 L640.6 594.2 L635.2 590.0 L630.2 585.4 L625.5 580.5 L621.3 575.4 L617.5 570.0 L614.2 564.4 L611.3 558.6 L608.9 552.6 L607.0 546.4 L605.5 540.1 L604.6 533.7 L604.1 527.2 L604.1 520.6 L604.7 514.0 L605.7 507.3 L607.2 500.7 L609.2 494.1 L611.7 487.5 L614.7 481.0 L618.1 474.7 L621.9 468.4 L626.2 462.3 L630.9 456.4 L636.0 450.7 L641.5 445.2 L647.3 440.0 L653.4 435.0 L659.9 430.3 L666.6 425.9 L673.7 421.8 L680.9 418.1 L688.3 414.7 L696.0 411.6 L703.7 408.9 L711.6 406.6 L719.6 404.7 L727.7 403.2 L735.7 402.1 L743.8 401.4 L751.8 401.1 L759.8 401.2 L767.7 401.7 L775.5 402.6 L755.9 454.3 L751.9 453.6 L747.8 453.1 L743.7 452.9 L739.5 452.8 L735.3 453.0 L731.1 453.3 L726.9 453.9 L722.8 454.7 L718.6 455.6 L714.6 456.8 L710.6 458.2 L706.7 459.7 L702.9 461.5 L699.2 463.4 L695.6 465.5 L692.2 467.7 L688.9 470.1 L685.8 472.7 L682.9 475.4 L680.2 478.2 L677.7 481.1 L675.3 484.1 L673.2 487.3 L671.4 490.4 L669.7 493.7 L668.4 497.0 L667.2 500.4 L666.3 503.8 L665.7 507.2 L665.3 510.6 L665.1 514.0 L665.3 517.4 L665.7 520.8 L666.3 524.1 L667.2 527.3 L668.3 530.5 L669.7 533.6 L671.4 536.6 L673.2 539.5 L675.3 542.2 L677.6 544.9 L680.1 547.4 L682.9 549.7 L685.8 551.9 L688.9 554.0 L692.1 555.9 L695.6 557.5 L699.1 559.0 L702.8 560.4 L706.6 561.5 L710.5 562.4 L714.5 563.1 L718.6 563.6 L722.7 563.9 L726.9 564.0 L731.1 563.9 L735.3 563.6 L739.4 563.0 L743.6 562.3 L747.7 561.3 L751.8 560.2 L755.8 558.8 L759.8 557.3 L763.6 555.6 L767.3 553.7 L770.9 551.6 L774.3 549.4 L777.6 547.0 L780.7 544.5 L783.7 541.8 L786.4 539.0 L789.0 536.1 L791.3 533.1 L793.5 530.0 L795.4 526.8 L797.0 523.6 L798.5 520.3 L799.6 516.9 L800.6 513.5 Z" fill="#0b8fa4" stroke="#0b8fa4" stroke-width="0.7"/>
<path d="M775.5 402.6 L783.3 404.0 L790.9 405.8 L798.3 408.0 L805.5 410.6 L812.4 413.6 L818.9 417.0 L825.2 420.8 L831.0 424.9 L836.5 429.4 L841.6 434.2 L846.3 439.3 L850.5 444.6 L854.2 450.3 L857.4 456.1 L796.2 481.3 L794.4 478.2 L792.3 475.3 L789.9 472.5 L787.4 469.9 L784.6 467.4 L781.6 465.1 L778.4 463.0 L775.0 461.0 L771.4 459.3 L767.7 457.7 L763.9 456.3 L759.9 455.2 L755.9 454.3 Z" fill="#0d5960" stroke="#0d5960" stroke-width="0.7"/>
<path d="M857.4 456.1 L860.3 462.4 L862.6 468.9 L864.4 475.6 L865.6 482.4 L866.2 489.4 L866.3 496.4 L865.8 503.5 L864.8 510.6 L863.1 517.7 L800.6 513.5 L801.3 509.8 L801.7 506.1 L801.9 502.4 L801.7 498.7 L801.2 495.1 L800.4 491.5 L799.3 488.0 L797.9 484.6 L796.2 481.3 Z" fill="#0a4b51" stroke="#0a4b51" stroke-width="0.7"/>
<path d="M762.2 401.3 L765.5 401.5 L768.9 401.8 L772.2 402.2 L775.5 402.6 L755.9 454.3 L753.6 453.9 L751.3 453.5 L749.0 453.2 L746.7 453.0 Z" fill="#18a4ba" />
<path d="M863.1 517.7 L862.8 519.1 L862.3 520.5 L861.9 521.9 L861.5 523.3 L799.2 518.3 L799.6 517.1 L799.9 515.9 L800.3 514.7 L800.6 513.5 Z" fill="#16a0b6" />
<path d="M755.88 454.28 L775.45 402.6" stroke="#0a4046" stroke-width="1.2" fill="none" stroke-linecap="butt"/>
<path d="M796.24 481.26 L857.44 456.12" stroke="#5f9299" stroke-width="1.3" fill="none" stroke-linecap="butt"/>
<path d="M800.57 513.53 L863.14 517.65" stroke="#073a3f" stroke-width="1.2" fill="none" stroke-linecap="butt"/>
<path d="M861.5 523.3 L859.0 529.8 L856.2 536.3 L852.8 542.7 L849.0 549.0 L844.8 555.1 L840.1 561.0 L835.1 566.8 L829.7 572.3 L823.9 577.5 L817.8 582.6 L811.4 587.3 L804.6 591.7 L797.7 595.9 L790.4 599.7 L783.0 603.1 L775.4 606.2 L767.6 609.0 L759.8 611.3 L751.8 613.3 L743.7 614.8 L735.7 616.0 L727.6 616.8 L719.6 617.1 L711.6 617.1 L703.7 616.6 L695.9 615.7 L688.3 614.5 L680.8 612.8 L673.6 610.7 L666.6 608.3 L659.8 605.4 L653.4 602.2 L647.2 598.7 L641.4 594.8" fill="none" stroke="rgba(255,255,255,0.30)" stroke-width="1.1"/>
<path d="M681.4 548.5 L678.8 546.1 L676.3 543.4 L674.1 540.7 L672.1 537.8 L670.4 534.8 L668.9 531.7 L667.6 528.5 L666.6 525.2 L665.9 521.9 L665.4 518.5 L665.2 515.1 L665.2 511.7 L665.5 508.2 L666.1 504.7 L666.9 501.3 L668.0 497.9 L669.4 494.5 L671.0 491.1 L672.9 487.9 L674.9 484.7 L677.2 481.6 L679.8 478.6 L682.5 475.8 L685.4 473.0 L688.6 470.4 L691.9 468.0 L695.3 465.7 L698.9 463.5 L702.7 461.6 L706.5 459.8 L710.5 458.2 L714.5 456.8 L718.7 455.6 L722.9 454.6 L727.1 453.9 L731.3 453.3 L735.6 452.9 L739.8 452.8 L744.1 452.9 L748.3 453.2 L752.4 453.7 L756.4 454.4" fill="none" stroke="rgba(255,255,255,0.14)" stroke-width="1.2"/>
<text class="k" x="32.5" y="400.5" font-size="12" fill="#111" textLength="66" lengthAdjust="spacingAndGlyphs">혼합 진료병원</text>
<text class="n" x="32" y="419" font-size="14.17" fill="#111" textLength="28" lengthAdjust="spacingAndGlyphs" stroke="#111" stroke-width="0.85" stroke-linejoin="round">356</text>
<text class="l" x="60.5" y="418.5" font-size="10.5" fill="#222" textLength="30" lengthAdjust="spacingAndGlyphs">(7.8%)</text>
<path d="M104 397 H130.5 V429" fill="none" stroke="#8a8a8a" stroke-width="1"/>
<text class="k" x="97" y="488" font-size="12" fill="#fff" textLength="21" lengthAdjust="spacingAndGlyphs">농장</text>
<text class="k" x="97" y="504" font-size="12" fill="#fff" textLength="42.5" lengthAdjust="spacingAndGlyphs">동물병원</text>
<text class="n" x="96" y="522.5" font-size="14.65" fill="#fff" textLength="30" lengthAdjust="spacingAndGlyphs" stroke="#fff" stroke-width="0.88" stroke-linejoin="round">890</text>
<text class="l" x="127" y="522" font-size="10.5" fill="#fff" textLength="33" lengthAdjust="spacingAndGlyphs">(19.7%)</text>
<text class="k" x="212.7" y="504.6" font-size="12.5" fill="#111" text-anchor="middle" font-weight="700">총</text>
<text class="n" x="212.5" y="525.6" font-size="19.37" fill="#111" text-anchor="middle" textLength="65" lengthAdjust="spacingAndGlyphs" stroke="#111" stroke-width="1.16" stroke-linejoin="round">4,526</text>
<text class="k" x="261.3" y="572" font-size="12" fill="#fff" text-anchor="middle" font-weight="500" textLength="65" lengthAdjust="spacingAndGlyphs">반려동물병원</text>
<text class="n" x="260.6" y="597" font-size="21.07" fill="#fff" text-anchor="middle" textLength="63.7" lengthAdjust="spacingAndGlyphs" stroke="#fff" stroke-width="1.26" stroke-linejoin="round">3,280</text>
<text class="l" x="261.3" y="616.2" font-size="13" fill="#fff" text-anchor="middle" textLength="46" lengthAdjust="spacingAndGlyphs">(72.5%)</text>
<text class="k" x="803" y="438" font-size="12" fill="#fff" text-anchor="middle" textLength="42.5" lengthAdjust="spacingAndGlyphs">농장동물</text>
<text class="n" x="781" y="456" font-size="14.65" fill="#fff" textLength="42" lengthAdjust="spacingAndGlyphs" stroke="#fff" stroke-width="0.88" stroke-linejoin="round">1,062</text>
<text class="l" x="823.5" y="455.5" font-size="10.5" fill="#fff" textLength="25" lengthAdjust="spacingAndGlyphs">(15%)</text>
<text class="k" x="834.5" y="491.8" font-size="12" fill="#fff" text-anchor="middle" textLength="42.5" lengthAdjust="spacingAndGlyphs">혼합진료</text>
<text class="n" x="813.5" y="509.8" font-size="14.65" fill="#fff" textLength="28.5" lengthAdjust="spacingAndGlyphs" stroke="#fff" stroke-width="0.88" stroke-linejoin="round">625</text>
<text class="l" x="842.5" y="509.5" font-size="10.5" fill="#fff" textLength="30" lengthAdjust="spacingAndGlyphs">(8.8%)</text>
<text class="k" x="742" y="510.4" font-size="12.5" fill="#111" text-anchor="middle" font-weight="700">총</text>
<text class="n" x="742.4" y="532" font-size="19.37" fill="#111" text-anchor="middle" textLength="62" lengthAdjust="spacingAndGlyphs" stroke="#111" stroke-width="1.16" stroke-linejoin="round">7,099</text>
<text class="k" x="642.2" y="531" font-size="12" fill="#fff" text-anchor="middle" font-weight="500" textLength="43" lengthAdjust="spacingAndGlyphs">반려동물</text>
<text class="n" x="642.2" y="557" font-size="21.07" fill="#fff" text-anchor="middle" textLength="59.5" lengthAdjust="spacingAndGlyphs" stroke="#fff" stroke-width="1.26" stroke-linejoin="round">5,412</text>
<text class="l" x="642.2" y="574.7" font-size="13" fill="#fff" text-anchor="middle" textLength="45.5" lengthAdjust="spacingAndGlyphs">(76.2%)</text>
<g transform="translate(330 465) scale(1)" fill="none" stroke="#d2b896" stroke-width="3" stroke-linecap="round" stroke-linejoin="round">
<path d="M83.81 41.2 A16.2 16.2 0 1 1 91.42 32.44 L93.2 42 Z"/>
<path d="M72.6 17.3 h7.2 v6 h6 v7.2 h-6 v6 h-7.2 v-6 h-6 v-7.2 h6 Z"/>
<g transform="translate(102.8 44.6) rotate(10.2)"><path d="M-6.2 0 H6.2 M0 0 V9.5 M-5.4 9.5 H5.4 V36.5 L1.6 41 H-1.6 L-5.4 36.5 Z M0 41 V52 M0 9.5 V20 M5.4 22 H1 M5.4 27 H1 M5.4 32 H1"/></g>
<path d="M12.5 83.1 H35.5 L46 71.5 Q48.6 68.5 52.5 68.5 H64.5 Q69.5 68.5 72.2 72.8 L74.2 76 H84.5 Q86.2 76 86.2 77.8 V89 Q86.2 90.5 84.6 90.9 L70 95.4 Q64.5 96.6 61 92.8"/>
<path d="M7.5 106.9 H100.5 Q104.5 106 104.5 102.5 Q104.5 97.5 98 96.3 H66"/>
<path d="M79.6 76.5 V83.6 H86"/>
<path d="M43.2 75 V90 A6.55 6.55 0 0 0 56.3 90 V75"/>
<circle cx="65.6" cy="79.6" r="1.1" fill="#d2b896"/>
</g>
<g transform="translate(490 460)" fill="none" stroke="#d2b896" stroke-width="3" stroke-linecap="round" stroke-linejoin="round">
<ellipse cx="55.7" cy="36.4" rx="19.4" ry="25"/>
<path d="M36.4 33.8 C41 32 48 28.5 56 26 C63 28.5 70 32 75 33.8 A19.4 25 0 0 0 36.4 33.8 Z" fill="#d2b896"/>
<path d="M14.4 113 V88 C14.4 75 24 68.5 34 65 L42 60.3"/>
<path d="M97.6 113 V88 C97.6 75 88 68.5 78 65 L70 60.3"/>
<path d="M39 64 L55.8 83.6 L72.6 64"/>
<path d="M45.2 79.5 L52.4 87.6 V104.5 M66.6 79.5 L59.4 87.6 V104.5"/>
<path d="M33.2 67.5 V80"/>
<path d="M30.2 106 H27.2 L26.2 91 Q26.4 81 33.2 81 Q40 81 40.4 91 L39.6 106 H36.6"/>
<circle cx="33.2" cy="81.5" r="2.6" fill="#d2b896" stroke="none"/>
<path d="M76.9 67.5 V74"/>
<circle cx="76.9" cy="80.6" r="5" fill="#d2b896"/>
<path d="M71.9 96.9 H81.9 M76.9 91.9 V101.9" stroke-width="2.6"/>
</g>
<rect x="36" y="960" width="889" height="14.5" fill="#cfd1d3"/>
<rect x="63" y="830" width="58.4" height="129" fill="#ee3593"/>
<rect x="92.2" y="830" width="29.2" height="129" fill="#b31a87"/>
<rect x="129.2" y="791" width="59" height="168" fill="#049bb1"/>
<rect x="158.7" y="791" width="29.5" height="168" fill="#046973"/>
<circle cx="158.7" cy="773.4" r="16" fill="#049bb1"/>
<path d="M158.7 757.4 A16 16 0 0 1 158.7 789.4 Z" fill="#046973"/>
<g transform="translate(158.7 791)" fill="none" stroke="#fff" stroke-width="2.35" stroke-linecap="round" stroke-linejoin="round">
<path d="M-9.7 -1 V5.2 A9.7 9.7 0 0 0 9.7 5.2 V-1"/>
<path d="M0 14.9 V25.5 A4.85 4.85 0 0 0 9.7 25.5 V19.8 A5.15 5.15 0 0 1 20 19.8 V25"/>
<circle cx="20" cy="28" r="3.4" fill="#fff" stroke="none"/>
</g>
<g transform="translate(70.3 830)" fill="none" stroke="#ee3593" stroke-width="1.7" stroke-linecap="round" stroke-linejoin="round">
<path d="M30.98 -32.12 A8.7 8.7 0 1 1 35.08 -36.82 L35.2 -32.4 Z"/>
<path d="M25 -44.8 h3.8 v3.1 h3.1 v3.8 h-3.1 v3.1 h-3.8 v-3.1 h-3.1 v-3.8 h3.1 Z" stroke-width="1.61"/>
<g transform="translate(40.3 -31.3) rotate(10)"><path d="M-3 0 H3 M0 0 V4.4 M-2.5 4.4 H2.5 V17.6 L0.8 19.8 H-0.8 L-2.5 17.6 Z M0 19.8 V25.3 M0 4.4 V9.5 M2.5 10.6 H0.5 M2.5 13 H0.5 M2.5 15.4 H0.5" stroke-width="1.53"/></g>
<path d="M0 0.5 V-12.4 H6.6 L11.6 -18.6 Q12.9 -19.9 14.6 -19.9 H22.3 Q24.6 -19.9 25.8 -17.8 L27 -15.5 H30.6 Q31.5 -15.5 31.5 -14.6 V-10.2 Q31.5 -9.4 30.7 -9.2 L24 -6.6 Q21.3 -5.9 19.6 -8"/>
<path d="M24 -5.4 H38.4 Q40.8 -4.6 40.8 -2.6 Q40.8 -0.6 39.4 0.5"/>
<path d="M28.6 -15.2 V-12.5 H31.2"/>
<path d="M10.9 -17 V-9.2 A2.35 2.35 0 0 0 15.6 -9.2 V-17"/>
<circle cx="21.8" cy="-13.9" r="0.55" fill="#ee3593"/>
</g>
<text class="l" x="92.2" y="864.3" font-size="14" fill="#fff" text-anchor="middle" textLength="36" lengthAdjust="spacingAndGlyphs" stroke="#fff" stroke-width="0.35">3,979</text>
<text class="l" x="158.7" y="844.7" font-size="14" fill="#fff" text-anchor="middle" textLength="35.5" lengthAdjust="spacingAndGlyphs" stroke="#fff" stroke-width="0.35">5,745</text>
<text class="k" x="124.4" y="971.8" font-size="12" fill="#111" text-anchor="middle" font-weight="700" textLength="55.5" lengthAdjust="spacingAndGlyphs">2014년 12월</text>
<rect x="240.6" y="809" width="58.4" height="150" fill="#ee3593"/>
<rect x="269.8" y="809" width="29.2" height="150" fill="#b31a87"/>
<rect x="307" y="766" width="59" height="193" fill="#049bb1"/>
<rect x="336.5" y="766" width="29.5" height="193" fill="#046973"/>
<circle cx="336.5" cy="748.4" r="16" fill="#049bb1"/>
<path d="M336.5 732.4 A16 16 0 0 1 336.5 764.4 Z" fill="#046973"/>
<g transform="translate(336.5 766)" fill="none" stroke="#fff" stroke-width="2.35" stroke-linecap="round" stroke-linejoin="round">
<path d="M-9.7 -1 V5.2 A9.7 9.7 0 0 0 9.7 5.2 V-1"/>
<path d="M0 14.9 V25.5 A4.85 4.85 0 0 0 9.7 25.5 V19.8 A5.15 5.15 0 0 1 20 19.8 V25"/>
<circle cx="20" cy="28" r="3.4" fill="#fff" stroke="none"/>
</g>
<g transform="translate(247.9 809)" fill="none" stroke="#ee3593" stroke-width="1.7" stroke-linecap="round" stroke-linejoin="round">
<path d="M30.98 -32.12 A8.7 8.7 0 1 1 35.08 -36.82 L35.2 -32.4 Z"/>
<path d="M25 -44.8 h3.8 v3.1 h3.1 v3.8 h-3.1 v3.1 h-3.8 v-3.1 h-3.1 v-3.8 h3.1 Z" stroke-width="1.61"/>
<g transform="translate(40.3 -31.3) rotate(10)"><path d="M-3 0 H3 M0 0 V4.4 M-2.5 4.4 H2.5 V17.6 L0.8 19.8 H-0.8 L-2.5 17.6 Z M0 19.8 V25.3 M0 4.4 V9.5 M2.5 10.6 H0.5 M2.5 13 H0.5 M2.5 15.4 H0.5" stroke-width="1.53"/></g>
<path d="M0 0.5 V-12.4 H6.6 L11.6 -18.6 Q12.9 -19.9 14.6 -19.9 H22.3 Q24.6 -19.9 25.8 -17.8 L27 -15.5 H30.6 Q31.5 -15.5 31.5 -14.6 V-10.2 Q31.5 -9.4 30.7 -9.2 L24 -6.6 Q21.3 -5.9 19.6 -8"/>
<path d="M24 -5.4 H38.4 Q40.8 -4.6 40.8 -2.6 Q40.8 -0.6 39.4 0.5"/>
<path d="M28.6 -15.2 V-12.5 H31.2"/>
<path d="M10.9 -17 V-9.2 A2.35 2.35 0 0 0 15.6 -9.2 V-17"/>
<circle cx="21.8" cy="-13.9" r="0.55" fill="#ee3593"/>
</g>
<text class="l" x="269.8" y="843.3" font-size="14" fill="#fff" text-anchor="middle" textLength="36" lengthAdjust="spacingAndGlyphs" stroke="#fff" stroke-width="0.35">4,174</text>
<text class="l" x="336.5" y="821.2" font-size="14" fill="#fff" text-anchor="middle" textLength="35.5" lengthAdjust="spacingAndGlyphs" stroke="#fff" stroke-width="0.35">6,184</text>
<text class="k" x="302.2" y="971.8" font-size="12" fill="#111" text-anchor="middle" font-weight="700" textLength="49" lengthAdjust="spacingAndGlyphs">2016년 6월</text>
<rect x="416.3" y="795" width="58.4" height="164" fill="#ee3593"/>
<rect x="445.5" y="795" width="29.2" height="164" fill="#b31a87"/>
<rect x="483" y="732.5" width="59" height="226.5" fill="#049bb1"/>
<rect x="512.5" y="732.5" width="29.5" height="226.5" fill="#046973"/>
<circle cx="512.5" cy="714.9" r="16" fill="#049bb1"/>
<path d="M512.5 698.9 A16 16 0 0 1 512.5 730.9 Z" fill="#046973"/>
<g transform="translate(512.5 732.5)" fill="none" stroke="#fff" stroke-width="2.35" stroke-linecap="round" stroke-linejoin="round">
<path d="M-9.7 -1 V5.2 A9.7 9.7 0 0 0 9.7 5.2 V-1"/>
<path d="M0 14.9 V25.5 A4.85 4.85 0 0 0 9.7 25.5 V19.8 A5.15 5.15 0 0 1 20 19.8 V25"/>
<circle cx="20" cy="28" r="3.4" fill="#fff" stroke="none"/>
</g>
<g transform="translate(423.6 795)" fill="none" stroke="#ee3593" stroke-width="1.7" stroke-linecap="round" stroke-linejoin="round">
<path d="M30.98 -32.12 A8.7 8.7 0 1 1 35.08 -36.82 L35.2 -32.4 Z"/>
<path d="M25 -44.8 h3.8 v3.1 h3.1 v3.8 h-3.1 v3.1 h-3.8 v-3.1 h-3.1 v-3.8 h3.1 Z" stroke-width="1.61"/>
<g transform="translate(40.3 -31.3) rotate(10)"><path d="M-3 0 H3 M0 0 V4.4 M-2.5 4.4 H2.5 V17.6 L0.8 19.8 H-0.8 L-2.5 17.6 Z M0 19.8 V25.3 M0 4.4 V9.5 M2.5 10.6 H0.5 M2.5 13 H0.5 M2.5 15.4 H0.5" stroke-width="1.53"/></g>
<path d="M0 0.5 V-12.4 H6.6 L11.6 -18.6 Q12.9 -19.9 14.6 -19.9 H22.3 Q24.6 -19.9 25.8 -17.8 L27 -15.5 H30.6 Q31.5 -15.5 31.5 -14.6 V-10.2 Q31.5 -9.4 30.7 -9.2 L24 -6.6 Q21.3 -5.9 19.6 -8"/>
<path d="M24 -5.4 H38.4 Q40.8 -4.6 40.8 -2.6 Q40.8 -0.6 39.4 0.5"/>
<path d="M28.6 -15.2 V-12.5 H31.2"/>
<path d="M10.9 -17 V-9.2 A2.35 2.35 0 0 0 15.6 -9.2 V-17"/>
<circle cx="21.8" cy="-13.9" r="0.55" fill="#ee3593"/>
</g>
<text class="l" x="445.5" y="829.3" font-size="14" fill="#fff" text-anchor="middle" textLength="36" lengthAdjust="spacingAndGlyphs" stroke="#fff" stroke-width="0.35">4,426</text>
<text class="l" x="512.5" y="788.7" font-size="14" fill="#fff" text-anchor="middle" textLength="35.5" lengthAdjust="spacingAndGlyphs" stroke="#fff" stroke-width="0.35">6,842</text>
<text class="k" x="480" y="971.8" font-size="12" fill="#111" text-anchor="middle" font-weight="700" textLength="55.5" lengthAdjust="spacingAndGlyphs">2017년 10월</text>
<rect x="596.3" y="786.5" width="58.4" height="172.5" fill="#ee3593"/>
<rect x="625.5" y="786.5" width="29.2" height="172.5" fill="#b31a87"/>
<rect x="662.5" y="718.5" width="59" height="240.5" fill="#049bb1"/>
<rect x="692" y="718.5" width="29.5" height="240.5" fill="#046973"/>
<circle cx="692" cy="700.9" r="16" fill="#049bb1"/>
<path d="M692 684.9 A16 16 0 0 1 692 716.9 Z" fill="#046973"/>
<g transform="translate(692 718.5)" fill="none" stroke="#fff" stroke-width="2.35" stroke-linecap="round" stroke-linejoin="round">
<path d="M-9.7 -1 V5.2 A9.7 9.7 0 0 0 9.7 5.2 V-1"/>
<path d="M0 14.9 V25.5 A4.85 4.85 0 0 0 9.7 25.5 V19.8 A5.15 5.15 0 0 1 20 19.8 V25"/>
<circle cx="20" cy="28" r="3.4" fill="#fff" stroke="none"/>
</g>
<g transform="translate(603.6 786.5)" fill="none" stroke="#ee3593" stroke-width="1.7" stroke-linecap="round" stroke-linejoin="round">
<path d="M30.98 -32.12 A8.7 8.7 0 1 1 35.08 -36.82 L35.2 -32.4 Z"/>
<path d="M25 -44.8 h3.8 v3.1 h3.1 v3.8 h-3.1 v3.1 h-3.8 v-3.1 h-3.1 v-3.8 h3.1 Z" stroke-width="1.61"/>
<g transform="translate(40.3 -31.3) rotate(10)"><path d="M-3 0 H3 M0 0 V4.4 M-2.5 4.4 H2.5 V17.6 L0.8 19.8 H-0.8 L-2.5 17.6 Z M0 19.8 V25.3 M0 4.4 V9.5 M2.5 10.6 H0.5 M2.5 13 H0.5 M2.5 15.4 H0.5" stroke-width="1.53"/></g>
<path d="M0 0.5 V-12.4 H6.6 L11.6 -18.6 Q12.9 -19.9 14.6 -19.9 H22.3 Q24.6 -19.9 25.8 -17.8 L27 -15.5 H30.6 Q31.5 -15.5 31.5 -14.6 V-10.2 Q31.5 -9.4 30.7 -9.2 L24 -6.6 Q21.3 -5.9 19.6 -8"/>
<path d="M24 -5.4 H38.4 Q40.8 -4.6 40.8 -2.6 Q40.8 -0.6 39.4 0.5"/>
<path d="M28.6 -15.2 V-12.5 H31.2"/>
<path d="M10.9 -17 V-9.2 A2.35 2.35 0 0 0 15.6 -9.2 V-17"/>
<circle cx="21.8" cy="-13.9" r="0.55" fill="#ee3593"/>
</g>
<text class="l" x="625.5" y="820.8" font-size="14" fill="#fff" text-anchor="middle" textLength="36" lengthAdjust="spacingAndGlyphs" stroke="#fff" stroke-width="0.35">4,506</text>
<text class="l" x="692" y="775.2" font-size="14" fill="#fff" text-anchor="middle" textLength="35.5" lengthAdjust="spacingAndGlyphs" stroke="#fff" stroke-width="0.35">7,072</text>
<text class="k" x="657.8" y="971.8" font-size="12" fill="#111" text-anchor="middle" font-weight="700" textLength="55.5" lengthAdjust="spacingAndGlyphs">2018년 11월</text>
<rect x="775.4" y="782.5" width="58.4" height="176.5" fill="#ee3593"/>
<rect x="804.6" y="782.5" width="29.2" height="176.5" fill="#b31a87"/>
<rect x="841.8" y="715" width="59" height="244" fill="#049bb1"/>
<rect x="871.3" y="715" width="29.5" height="244" fill="#046973"/>
<circle cx="871.3" cy="697.4" r="16" fill="#049bb1"/>
<path d="M871.3 681.4 A16 16 0 0 1 871.3 713.4 Z" fill="#046973"/>
<g transform="translate(871.3 715)" fill="none" stroke="#fff" stroke-width="2.35" stroke-linecap="round" stroke-linejoin="round">
<path d="M-9.7 -1 V5.2 A9.7 9.7 0 0 0 9.7 5.2 V-1"/>
<path d="M0 14.9 V25.5 A4.85 4.85 0 0 0 9.7 25.5 V19.8 A5.15 5.15 0 0 1 20 19.8 V25"/>
<circle cx="20" cy="28" r="3.4" fill="#fff" stroke="none"/>
</g>
<g transform="translate(782.7 782.5)" fill="none" stroke="#ee3593" stroke-width="1.7" stroke-linecap="round" stroke-linejoin="round">
<path d="M30.98 -32.12 A8.7 8.7 0 1 1 35.08 -36.82 L35.2 -32.4 Z"/>
<path d="M25 -44.8 h3.8 v3.1 h3.1 v3.8 h-3.1 v3.1 h-3.8 v-3.1 h-3.1 v-3.8 h3.1 Z" stroke-width="1.61"/>
<g transform="translate(40.3 -31.3) rotate(10)"><path d="M-3 0 H3 M0 0 V4.4 M-2.5 4.4 H2.5 V17.6 L0.8 19.8 H-0.8 L-2.5 17.6 Z M0 19.8 V25.3 M0 4.4 V9.5 M2.5 10.6 H0.5 M2.5 13 H0.5 M2.5 15.4 H0.5" stroke-width="1.53"/></g>
<path d="M0 0.5 V-12.4 H6.6 L11.6 -18.6 Q12.9 -19.9 14.6 -19.9 H22.3 Q24.6 -19.9 25.8 -17.8 L27 -15.5 H30.6 Q31.5 -15.5 31.5 -14.6 V-10.2 Q31.5 -9.4 30.7 -9.2 L24 -6.6 Q21.3 -5.9 19.6 -8"/>
<path d="M24 -5.4 H38.4 Q40.8 -4.6 40.8 -2.6 Q40.8 -0.6 39.4 0.5"/>
<path d="M28.6 -15.2 V-12.5 H31.2"/>
<path d="M10.9 -17 V-9.2 A2.35 2.35 0 0 0 15.6 -9.2 V-17"/>
<circle cx="21.8" cy="-13.9" r="0.55" fill="#ee3593"/>
</g>
<text class="l" x="804.6" y="816.8" font-size="14" fill="#fff" text-anchor="middle" textLength="36" lengthAdjust="spacingAndGlyphs" stroke="#fff" stroke-width="0.35">4,526</text>
<text class="l" x="871.3" y="770.9" font-size="14" fill="#fff" text-anchor="middle" textLength="35.5" lengthAdjust="spacingAndGlyphs" stroke="#fff" stroke-width="0.35">7,099</text>
<text class="k" x="835.6" y="971.8" font-size="12" fill="#111" text-anchor="middle" font-weight="700" textLength="55.5" lengthAdjust="spacingAndGlyphs">2019년 12월</text>
<path d="M36 959.5 H925 M36 959.5 V953.5 M213.8 959.5 V953.5 M391.6 959.5 V953.5 M569.4 959.5 V953.5 M747.2 959.5 V953.5 M924.5 959.5 V953.5" fill="none" stroke="#666" stroke-width="1"/>
<g opacity="0.4"><text class="k" x="409" y="996" font-size="32" font-weight="900" fill="#ffffff" textLength="60" lengthAdjust="spacingAndGlyphs">개원</text>
<text class="n" x="481" y="984" font-size="7.5" fill="#ffffff">the daily</text>
<text class="n" x="479" y="998.5" font-size="17" fill="#ffffff" textLength="84" lengthAdjust="spacingAndGlyphs">gaewon</text>
<g fill="#ffffff"><ellipse cx="572" cy="994.5" rx="3.6" ry="3"/><circle cx="567.6" cy="990.3" r="1.5"/><circle cx="570.6" cy="988.6" r="1.5"/><circle cx="574" cy="988.8" r="1.5"/><circle cx="576.6" cy="990.8" r="1.5"/></g></g>
<rect x="480" y="968" width="100" height="7.2" fill="#5b82b5" opacity="0.72"/>
<text class="k" x="482" y="974" font-size="6.3" fill="#eef2f8" textLength="96" lengthAdjust="spacingAndGlyphs">수의사를 위한 임상·경영 전문저널</text>
</svg>
</body></html>
